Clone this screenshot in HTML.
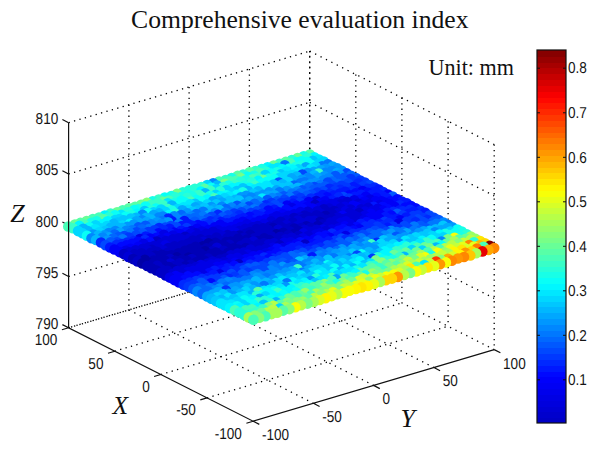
<!DOCTYPE html>
<html>
<head>
<meta charset="utf-8">
<title>Comprehensive evaluation index</title>
<style>
html,body{margin:0;padding:0;background:#fff;}
body{width:600px;height:454px;overflow:hidden;font-family:"Liberation Sans",sans-serif;}
svg{display:block;}
</style>
</head>
<body>
<svg width="600" height="454" viewBox="0 0 600 454">
<rect width="600" height="454" fill="#fff"/>
<path d="M128.9 104.8L128.9 309.9M189.1 86.9L189.1 292M249.4 69L249.4 274.1M309.7 51.1L309.7 256.2M355.8 74.5L355.8 279.6M401.9 97.8L401.9 302.9M448.1 121.2L448.1 326.2M494.2 144.5L494.2 349.6" fill="none" stroke="#000" stroke-width="1.3" stroke-dasharray="1.3 4.10"/>
<path d="M68.6 327.8L309.7 256.2M68.6 276.5L309.7 204.9M68.6 225.2L309.7 153.7M68.6 174L309.7 102.4M68.6 122.7L309.7 51.1M114.7 351.2L355.8 279.6M160.8 374.5L401.9 302.9M207 397.9L448.1 326.2" fill="none" stroke="#000" stroke-width="1.3" stroke-dasharray="1.3 4.33"/>
<path d="M309.7 256.2L494.2 349.6M309.7 204.9L494.2 298.3M309.7 153.7L494.2 247.1M309.7 102.4L494.2 195.8M309.7 51.1L494.2 144.5M128.9 309.9L313.4 403.3M189.1 292L373.6 385.4M249.4 274.1L433.9 367.5" fill="none" stroke="#000" stroke-width="1.3" stroke-dasharray="1.3 4.75"/>
<path d="M68.6 327.8L309.7 256.2" fill="none" stroke="#000" stroke-width="1.3" stroke-dasharray="1.3 4.33" stroke-dashoffset="3.10"/>
<path d="M309.7 51.1L309.7 256.2" fill="none" stroke="#000" stroke-width="1.3" stroke-dasharray="1.3 4.10" stroke-dashoffset="0.7"/>
<path d="M68.6 225.2l-6.2 -3.2" fill="none" stroke="#111" stroke-width="1.2"/>
<g id="pts">
<circle cx="309.9" cy="154.5" r="5.3" fill="#58ffa7"/>
<circle cx="303.7" cy="156.2" r="5.3" fill="#18ffe7"/>
<circle cx="297.6" cy="158.1" r="5.3" fill="#68ff97"/>
<circle cx="291.8" cy="160.1" r="5.3" fill="#28ffd7"/>
<circle cx="285.8" cy="161.9" r="5.3" fill="#58ffa7"/>
<circle cx="279.5" cy="163.7" r="5.3" fill="#38ffc7"/>
<circle cx="273.6" cy="165.5" r="5.3" fill="#68ff97"/>
<circle cx="267.6" cy="167.2" r="5.3" fill="#00f7ff"/>
<circle cx="261.8" cy="169" r="5.3" fill="#18ffe7"/>
<circle cx="255.5" cy="171" r="5.3" fill="#38ffc7"/>
<circle cx="249.5" cy="172.3" r="5.3" fill="#58ffa7"/>
<circle cx="243.1" cy="174.5" r="5.3" fill="#28ffd7"/>
<circle cx="237.6" cy="175.9" r="5.3" fill="#58ffa7"/>
<circle cx="231.6" cy="178.1" r="5.3" fill="#18ffe7"/>
<circle cx="225.6" cy="180" r="5.3" fill="#38ffc7"/>
<circle cx="219.1" cy="181.5" r="5.3" fill="#48ffb7"/>
<circle cx="213.2" cy="183.2" r="5.3" fill="#0087ff"/>
<circle cx="207.2" cy="185.1" r="5.3" fill="#00d7ff"/>
<circle cx="201.4" cy="187.1" r="5.3" fill="#28ffd7"/>
<circle cx="194.9" cy="188.7" r="5.3" fill="#28ffd7"/>
<circle cx="188.9" cy="190.4" r="5.3" fill="#28ffd7"/>
<circle cx="182.9" cy="192.2" r="5.3" fill="#28ffd7"/>
<circle cx="176.9" cy="193.9" r="5.3" fill="#78ff87"/>
<circle cx="171.3" cy="196.1" r="5.3" fill="#18ffe7"/>
<circle cx="164.8" cy="197.5" r="5.3" fill="#08fff7"/>
<circle cx="158.7" cy="199.6" r="5.3" fill="#38ffc7"/>
<circle cx="152.7" cy="201.2" r="5.3" fill="#18ffe7"/>
<circle cx="146.8" cy="202.9" r="5.3" fill="#87ff78"/>
<circle cx="141.1" cy="204.7" r="5.3" fill="#68ff97"/>
<circle cx="135.1" cy="206.7" r="5.3" fill="#58ffa7"/>
<circle cx="128.9" cy="208.3" r="5.3" fill="#58ffa7"/>
<circle cx="122.7" cy="210.2" r="5.3" fill="#48ffb7"/>
<circle cx="117.1" cy="212.2" r="5.3" fill="#68ff97"/>
<circle cx="110.6" cy="213.6" r="5.3" fill="#38ffc7"/>
<circle cx="104.8" cy="215.6" r="5.3" fill="#00f7ff"/>
<circle cx="99" cy="217.5" r="5.3" fill="#48ffb7"/>
<circle cx="92.9" cy="219" r="5.3" fill="#48ffb7"/>
<circle cx="86.6" cy="221.1" r="5.3" fill="#68ff97"/>
<circle cx="80.4" cy="222.9" r="5.3" fill="#58ffa7"/>
<circle cx="74.9" cy="224.5" r="5.3" fill="#68ff97"/>
<circle cx="68.3" cy="226.5" r="5.3" fill="#48ffb7"/>
<circle cx="314.3" cy="157.2" r="5.3" fill="#00f7ff"/>
<circle cx="307.8" cy="158.3" r="5.3" fill="#28ffd7"/>
<circle cx="301.4" cy="161.3" r="5.3" fill="#08fff7"/>
<circle cx="297.1" cy="162.2" r="5.3" fill="#08fff7"/>
<circle cx="290.3" cy="163.3" r="5.3" fill="#48ffb7"/>
<circle cx="284.8" cy="165.3" r="5.3" fill="#0078ff"/>
<circle cx="277.8" cy="167.8" r="5.3" fill="#00e7ff"/>
<circle cx="272.3" cy="169.1" r="5.3" fill="#00e7ff"/>
<circle cx="266.2" cy="171.8" r="5.3" fill="#28ffd7"/>
<circle cx="260.1" cy="173.1" r="5.3" fill="#48ffb7"/>
<circle cx="254" cy="175.7" r="5.3" fill="#18ffe7"/>
<circle cx="247.5" cy="176.8" r="5.3" fill="#08fff7"/>
<circle cx="241.2" cy="178.4" r="5.3" fill="#78ff87"/>
<circle cx="236.3" cy="180.8" r="5.3" fill="#48ffb7"/>
<circle cx="230.3" cy="181.4" r="5.3" fill="#48ffb7"/>
<circle cx="224.9" cy="183.7" r="5.3" fill="#78ff87"/>
<circle cx="217.1" cy="185.5" r="5.3" fill="#00b7ff"/>
<circle cx="211.4" cy="187.8" r="5.3" fill="#08fff7"/>
<circle cx="204.8" cy="188.9" r="5.3" fill="#58ffa7"/>
<circle cx="200.9" cy="191.5" r="5.3" fill="#00f7ff"/>
<circle cx="192.7" cy="193.3" r="5.3" fill="#28ffd7"/>
<circle cx="188.6" cy="195.1" r="5.3" fill="#18ffe7"/>
<circle cx="181.9" cy="196.7" r="5.3" fill="#18ffe7"/>
<circle cx="175.5" cy="197.4" r="5.3" fill="#28ffd7"/>
<circle cx="168.7" cy="200.6" r="5.3" fill="#48ffb7"/>
<circle cx="163.3" cy="201.8" r="5.3" fill="#68ff97"/>
<circle cx="157.7" cy="203.1" r="5.3" fill="#38ffc7"/>
<circle cx="150.9" cy="205" r="5.3" fill="#38ffc7"/>
<circle cx="145.5" cy="206.5" r="5.3" fill="#08fff7"/>
<circle cx="138.4" cy="209.3" r="5.3" fill="#18ffe7"/>
<circle cx="134.4" cy="210" r="5.3" fill="#08fff7"/>
<circle cx="128.2" cy="212.3" r="5.3" fill="#28ffd7"/>
<circle cx="121.1" cy="214.9" r="5.3" fill="#00e7ff"/>
<circle cx="115.1" cy="215.3" r="5.3" fill="#08fff7"/>
<circle cx="108.8" cy="217.2" r="5.3" fill="#28ffd7"/>
<circle cx="103.7" cy="219.2" r="5.3" fill="#58ffa7"/>
<circle cx="96.6" cy="221.3" r="5.3" fill="#18ffe7"/>
<circle cx="91.4" cy="222.8" r="5.3" fill="#18ffe7"/>
<circle cx="84.2" cy="224.8" r="5.3" fill="#48ffb7"/>
<circle cx="79.3" cy="225.9" r="5.3" fill="#00f7ff"/>
<circle cx="72.9" cy="228.3" r="5.3" fill="#38ffc7"/>
<circle cx="318.9" cy="159.5" r="5.3" fill="#00e7ff"/>
<circle cx="312.7" cy="160.8" r="5.3" fill="#00c7ff"/>
<circle cx="307.2" cy="162.1" r="5.3" fill="#08fff7"/>
<circle cx="301.4" cy="165.3" r="5.3" fill="#18ffe7"/>
<circle cx="295.6" cy="167" r="5.3" fill="#18ffe7"/>
<circle cx="289.2" cy="168.6" r="5.3" fill="#08fff7"/>
<circle cx="282.5" cy="169.3" r="5.3" fill="#00f7ff"/>
<circle cx="277" cy="172.2" r="5.3" fill="#18ffe7"/>
<circle cx="271.3" cy="173.6" r="5.3" fill="#08fff7"/>
<circle cx="265.2" cy="175" r="5.3" fill="#00d7ff"/>
<circle cx="258" cy="177.7" r="5.3" fill="#38ffc7"/>
<circle cx="252.6" cy="179.3" r="5.3" fill="#48ffb7"/>
<circle cx="245.7" cy="180.2" r="5.3" fill="#18ffe7"/>
<circle cx="240.7" cy="181.7" r="5.3" fill="#28ffd7"/>
<circle cx="235" cy="184.7" r="5.3" fill="#38ffc7"/>
<circle cx="228.4" cy="185.5" r="5.3" fill="#18ffe7"/>
<circle cx="223.4" cy="187.1" r="5.3" fill="#28ffd7"/>
<circle cx="216.3" cy="189.3" r="5.3" fill="#00d7ff"/>
<circle cx="210.6" cy="190.9" r="5.3" fill="#38ffc7"/>
<circle cx="205.1" cy="193.3" r="5.3" fill="#00b7ff"/>
<circle cx="199.2" cy="195.1" r="5.3" fill="#38ffc7"/>
<circle cx="192.2" cy="196.6" r="5.3" fill="#18ffe7"/>
<circle cx="187.1" cy="197.8" r="5.3" fill="#28ffd7"/>
<circle cx="181.2" cy="200.9" r="5.3" fill="#08fff7"/>
<circle cx="174" cy="203.2" r="5.3" fill="#18ffe7"/>
<circle cx="167.7" cy="203.3" r="5.3" fill="#00e7ff"/>
<circle cx="163.2" cy="205.4" r="5.3" fill="#38ffc7"/>
<circle cx="155.9" cy="208.5" r="5.3" fill="#08fff7"/>
<circle cx="151.1" cy="210.2" r="5.3" fill="#28ffd7"/>
<circle cx="144.6" cy="211.1" r="5.3" fill="#00c7ff"/>
<circle cx="137.1" cy="213.8" r="5.3" fill="#00f7ff"/>
<circle cx="131.6" cy="215.2" r="5.3" fill="#18ffe7"/>
<circle cx="125.6" cy="216.7" r="5.3" fill="#08fff7"/>
<circle cx="119.4" cy="219.1" r="5.3" fill="#00d7ff"/>
<circle cx="115.1" cy="220.1" r="5.3" fill="#00d7ff"/>
<circle cx="107.6" cy="221.2" r="5.3" fill="#00f7ff"/>
<circle cx="102.8" cy="224.2" r="5.3" fill="#00f7ff"/>
<circle cx="95.6" cy="225.3" r="5.3" fill="#00d7ff"/>
<circle cx="89.1" cy="227.3" r="5.3" fill="#08fff7"/>
<circle cx="83.3" cy="228.7" r="5.3" fill="#00b7ff"/>
<circle cx="78.1" cy="231.1" r="5.3" fill="#00d7ff"/>
<circle cx="323.8" cy="161.6" r="5.3" fill="#00d7ff"/>
<circle cx="318.4" cy="164" r="5.3" fill="#00d7ff"/>
<circle cx="310.6" cy="164.6" r="5.3" fill="#08fff7"/>
<circle cx="305.9" cy="167.3" r="5.3" fill="#00a7ff"/>
<circle cx="298.4" cy="169.3" r="5.3" fill="#00d7ff"/>
<circle cx="293" cy="169.9" r="5.3" fill="#00f7ff"/>
<circle cx="286.5" cy="171.6" r="5.3" fill="#00e7ff"/>
<circle cx="280.7" cy="174.4" r="5.3" fill="#00c7ff"/>
<circle cx="276.3" cy="176.2" r="5.3" fill="#18ffe7"/>
<circle cx="268.7" cy="178.6" r="5.3" fill="#18ffe7"/>
<circle cx="263.3" cy="179.9" r="5.3" fill="#68ff97"/>
<circle cx="258.2" cy="180.9" r="5.3" fill="#00f7ff"/>
<circle cx="251.6" cy="182.6" r="5.3" fill="#28ffd7"/>
<circle cx="244.5" cy="185.8" r="5.3" fill="#18ffe7"/>
<circle cx="238.5" cy="187.2" r="5.3" fill="#00f7ff"/>
<circle cx="232.4" cy="188" r="5.3" fill="#00f7ff"/>
<circle cx="226.3" cy="190.1" r="5.3" fill="#00d7ff"/>
<circle cx="220.1" cy="191.3" r="5.3" fill="#28ffd7"/>
<circle cx="215.6" cy="194.8" r="5.3" fill="#00d7ff"/>
<circle cx="210" cy="196.1" r="5.3" fill="#18ffe7"/>
<circle cx="202.7" cy="197.2" r="5.3" fill="#38ffc7"/>
<circle cx="196.6" cy="200.1" r="5.3" fill="#08fff7"/>
<circle cx="190.6" cy="201.6" r="5.3" fill="#48ffb7"/>
<circle cx="184.8" cy="202.6" r="5.3" fill="#08fff7"/>
<circle cx="179.8" cy="203.8" r="5.3" fill="#08fff7"/>
<circle cx="171.8" cy="205.6" r="5.3" fill="#00b7ff"/>
<circle cx="167.4" cy="208.9" r="5.3" fill="#38ffc7"/>
<circle cx="161.1" cy="209.6" r="5.3" fill="#00d7ff"/>
<circle cx="153.7" cy="212.2" r="5.3" fill="#00d7ff"/>
<circle cx="147.7" cy="213.1" r="5.3" fill="#08fff7"/>
<circle cx="142.5" cy="214.9" r="5.3" fill="#0087ff"/>
<circle cx="136" cy="217.7" r="5.3" fill="#00b7ff"/>
<circle cx="130.9" cy="218.6" r="5.3" fill="#00c7ff"/>
<circle cx="123.7" cy="220.2" r="5.3" fill="#00c7ff"/>
<circle cx="117.6" cy="222.6" r="5.3" fill="#00c7ff"/>
<circle cx="113.6" cy="223.9" r="5.3" fill="#00b7ff"/>
<circle cx="107" cy="226" r="5.3" fill="#00d7ff"/>
<circle cx="100.9" cy="228.3" r="5.3" fill="#00d7ff"/>
<circle cx="95.2" cy="229.3" r="5.3" fill="#00e7ff"/>
<circle cx="87.8" cy="231" r="5.3" fill="#00b7ff"/>
<circle cx="82.5" cy="233.2" r="5.3" fill="#00d7ff"/>
<circle cx="328" cy="164.2" r="5.3" fill="#0078ff"/>
<circle cx="322.1" cy="166.4" r="5.3" fill="#0078ff"/>
<circle cx="315.6" cy="166.9" r="5.3" fill="#00d7ff"/>
<circle cx="311" cy="169.1" r="5.3" fill="#00e7ff"/>
<circle cx="304.7" cy="172" r="5.3" fill="#00d7ff"/>
<circle cx="297.4" cy="172.7" r="5.3" fill="#00e7ff"/>
<circle cx="292.2" cy="175" r="5.3" fill="#00d7ff"/>
<circle cx="286.3" cy="176" r="5.3" fill="#00d7ff"/>
<circle cx="280" cy="177.5" r="5.3" fill="#00d7ff"/>
<circle cx="274.2" cy="179.4" r="5.3" fill="#08fff7"/>
<circle cx="267.4" cy="181.5" r="5.3" fill="#08fff7"/>
<circle cx="261.5" cy="183.5" r="5.3" fill="#08fff7"/>
<circle cx="255.2" cy="185.9" r="5.3" fill="#38ffc7"/>
<circle cx="249.6" cy="187.8" r="5.3" fill="#00f7ff"/>
<circle cx="243" cy="188.2" r="5.3" fill="#00c7ff"/>
<circle cx="236.8" cy="191.1" r="5.3" fill="#00c7ff"/>
<circle cx="231.2" cy="192.7" r="5.3" fill="#00d7ff"/>
<circle cx="226.4" cy="195.3" r="5.3" fill="#08fff7"/>
<circle cx="220.7" cy="196.2" r="5.3" fill="#00f7ff"/>
<circle cx="214.5" cy="198.2" r="5.3" fill="#48ffb7"/>
<circle cx="207" cy="199.6" r="5.3" fill="#00f7ff"/>
<circle cx="201" cy="201.4" r="5.3" fill="#08fff7"/>
<circle cx="195" cy="203.8" r="5.3" fill="#00c7ff"/>
<circle cx="190.1" cy="204.3" r="5.3" fill="#00e7ff"/>
<circle cx="183.6" cy="207.2" r="5.3" fill="#00e7ff"/>
<circle cx="177.3" cy="209" r="5.3" fill="#00d7ff"/>
<circle cx="171.7" cy="210.5" r="5.3" fill="#18ffe7"/>
<circle cx="165.3" cy="211.7" r="5.3" fill="#00d7ff"/>
<circle cx="159.2" cy="213.4" r="5.3" fill="#00b7ff"/>
<circle cx="153.7" cy="215.1" r="5.3" fill="#00a7ff"/>
<circle cx="146.3" cy="217.7" r="5.3" fill="#00b7ff"/>
<circle cx="142.1" cy="220.4" r="5.3" fill="#0087ff"/>
<circle cx="136.3" cy="221.3" r="5.3" fill="#00a7ff"/>
<circle cx="129.9" cy="223.8" r="5.3" fill="#00f7ff"/>
<circle cx="122.5" cy="225.6" r="5.3" fill="#00d7ff"/>
<circle cx="117.2" cy="227.4" r="5.3" fill="#00b7ff"/>
<circle cx="110.8" cy="227.6" r="5.3" fill="#00b7ff"/>
<circle cx="105.5" cy="230.9" r="5.3" fill="#00c7ff"/>
<circle cx="99.2" cy="232.3" r="5.3" fill="#00d7ff"/>
<circle cx="93.3" cy="234.5" r="5.3" fill="#0097ff"/>
<circle cx="87" cy="235.8" r="5.3" fill="#08fff7"/>
<circle cx="332.7" cy="166.5" r="5.3" fill="#00a7ff"/>
<circle cx="325.7" cy="168.7" r="5.3" fill="#0097ff"/>
<circle cx="320.9" cy="170.2" r="5.3" fill="#00a7ff"/>
<circle cx="313.9" cy="171.9" r="5.3" fill="#00a7ff"/>
<circle cx="307.8" cy="173" r="5.3" fill="#0097ff"/>
<circle cx="302.3" cy="174.6" r="5.3" fill="#0048ff"/>
<circle cx="296.8" cy="176.5" r="5.3" fill="#00b7ff"/>
<circle cx="291.5" cy="178.4" r="5.3" fill="#00a7ff"/>
<circle cx="285.4" cy="181.2" r="5.3" fill="#00d7ff"/>
<circle cx="278.8" cy="182.5" r="5.3" fill="#0058ff"/>
<circle cx="273.4" cy="184.6" r="5.3" fill="#00c7ff"/>
<circle cx="266.5" cy="185.8" r="5.3" fill="#00e7ff"/>
<circle cx="259.4" cy="187.9" r="5.3" fill="#00e7ff"/>
<circle cx="254.6" cy="189.6" r="5.3" fill="#00e7ff"/>
<circle cx="248" cy="191" r="5.3" fill="#00b7ff"/>
<circle cx="242.8" cy="192.3" r="5.3" fill="#18ffe7"/>
<circle cx="236.9" cy="194.9" r="5.3" fill="#00f7ff"/>
<circle cx="229.3" cy="196.5" r="5.3" fill="#00e7ff"/>
<circle cx="224.7" cy="198.1" r="5.3" fill="#00d7ff"/>
<circle cx="218.3" cy="199.9" r="5.3" fill="#00b7ff"/>
<circle cx="213" cy="201.3" r="5.3" fill="#00a7ff"/>
<circle cx="207.2" cy="204.4" r="5.3" fill="#00d7ff"/>
<circle cx="199.6" cy="206.4" r="5.3" fill="#00b7ff"/>
<circle cx="195.2" cy="207.4" r="5.3" fill="#00a7ff"/>
<circle cx="188" cy="209.7" r="5.3" fill="#00d7ff"/>
<circle cx="182.3" cy="210.3" r="5.3" fill="#00a7ff"/>
<circle cx="175.2" cy="213.6" r="5.3" fill="#28ffd7"/>
<circle cx="169" cy="215" r="5.3" fill="#00f7ff"/>
<circle cx="163" cy="216.6" r="5.3" fill="#0087ff"/>
<circle cx="158.8" cy="217.5" r="5.3" fill="#0087ff"/>
<circle cx="151.1" cy="219.5" r="5.3" fill="#00b7ff"/>
<circle cx="146.6" cy="222.1" r="5.3" fill="#00a7ff"/>
<circle cx="139" cy="222.9" r="5.3" fill="#00a7ff"/>
<circle cx="133.7" cy="224.5" r="5.3" fill="#0097ff"/>
<circle cx="127.5" cy="226.9" r="5.3" fill="#0097ff"/>
<circle cx="122.1" cy="228.1" r="5.3" fill="#00b7ff"/>
<circle cx="115.4" cy="231.1" r="5.3" fill="#0087ff"/>
<circle cx="108.8" cy="233.1" r="5.3" fill="#0087ff"/>
<circle cx="104.3" cy="235.2" r="5.3" fill="#0097ff"/>
<circle cx="98.3" cy="235.6" r="5.3" fill="#00b7ff"/>
<circle cx="91.5" cy="238.2" r="5.3" fill="#0087ff"/>
<circle cx="337.4" cy="168.4" r="5.3" fill="#0097ff"/>
<circle cx="331.8" cy="171" r="5.3" fill="#0087ff"/>
<circle cx="325.1" cy="172.9" r="5.3" fill="#0087ff"/>
<circle cx="318.6" cy="173.6" r="5.3" fill="#38ffc7"/>
<circle cx="314.1" cy="175.3" r="5.3" fill="#00b7ff"/>
<circle cx="307.8" cy="177.9" r="5.3" fill="#0087ff"/>
<circle cx="302" cy="179.7" r="5.3" fill="#0097ff"/>
<circle cx="295.8" cy="181.3" r="5.3" fill="#00a7ff"/>
<circle cx="288.6" cy="182.4" r="5.3" fill="#00d7ff"/>
<circle cx="282.4" cy="184.2" r="5.3" fill="#00b7ff"/>
<circle cx="276.4" cy="186.3" r="5.3" fill="#00c7ff"/>
<circle cx="270.2" cy="189.2" r="5.3" fill="#00e7ff"/>
<circle cx="265.7" cy="190.6" r="5.3" fill="#00e7ff"/>
<circle cx="258.2" cy="191.4" r="5.3" fill="#00b7ff"/>
<circle cx="253.6" cy="194.1" r="5.3" fill="#00c7ff"/>
<circle cx="246.2" cy="195.7" r="5.3" fill="#0097ff"/>
<circle cx="240.8" cy="197.4" r="5.3" fill="#0097ff"/>
<circle cx="235.4" cy="199.8" r="5.3" fill="#00b7ff"/>
<circle cx="229.3" cy="201.1" r="5.3" fill="#00c7ff"/>
<circle cx="222" cy="202.5" r="5.3" fill="#00a7ff"/>
<circle cx="216.3" cy="204.3" r="5.3" fill="#00c7ff"/>
<circle cx="211.2" cy="207" r="5.3" fill="#0097ff"/>
<circle cx="204.5" cy="208" r="5.3" fill="#00c7ff"/>
<circle cx="198" cy="210.3" r="5.3" fill="#00b7ff"/>
<circle cx="192.9" cy="211.7" r="5.3" fill="#00c7ff"/>
<circle cx="187.4" cy="213.4" r="5.3" fill="#0097ff"/>
<circle cx="181.1" cy="215" r="5.3" fill="#0068ff"/>
<circle cx="174.3" cy="216.2" r="5.3" fill="#0087ff"/>
<circle cx="168.4" cy="218.6" r="5.3" fill="#0028ff"/>
<circle cx="162" cy="221" r="5.3" fill="#0078ff"/>
<circle cx="157.2" cy="222.2" r="5.3" fill="#0097ff"/>
<circle cx="151.2" cy="224.4" r="5.3" fill="#0087ff"/>
<circle cx="145.5" cy="225.7" r="5.3" fill="#0058ff"/>
<circle cx="138.4" cy="227.4" r="5.3" fill="#0058ff"/>
<circle cx="132.1" cy="230.2" r="5.3" fill="#0078ff"/>
<circle cx="126.2" cy="230.7" r="5.3" fill="#0087ff"/>
<circle cx="119.8" cy="232.7" r="5.3" fill="#00a7ff"/>
<circle cx="114.7" cy="234.6" r="5.3" fill="#0068ff"/>
<circle cx="109.1" cy="237.4" r="5.3" fill="#00a7ff"/>
<circle cx="102.6" cy="237.6" r="5.3" fill="#0087ff"/>
<circle cx="96.1" cy="240" r="5.3" fill="#00b7ff"/>
<circle cx="341.9" cy="170.8" r="5.3" fill="#0097ff"/>
<circle cx="336.8" cy="173" r="5.3" fill="#00a7ff"/>
<circle cx="330.6" cy="175.2" r="5.3" fill="#0087ff"/>
<circle cx="324.4" cy="176.3" r="5.3" fill="#0097ff"/>
<circle cx="317.3" cy="177.5" r="5.3" fill="#00a7ff"/>
<circle cx="311.1" cy="179.9" r="5.3" fill="#0087ff"/>
<circle cx="304.7" cy="182.3" r="5.3" fill="#0078ff"/>
<circle cx="300.5" cy="183.3" r="5.3" fill="#0078ff"/>
<circle cx="294.1" cy="185.6" r="5.3" fill="#0068ff"/>
<circle cx="288.7" cy="186.8" r="5.3" fill="#00c7ff"/>
<circle cx="282.6" cy="188.1" r="5.3" fill="#00c7ff"/>
<circle cx="276.5" cy="190.4" r="5.3" fill="#00a7ff"/>
<circle cx="269" cy="192.4" r="5.3" fill="#0097ff"/>
<circle cx="263.2" cy="194.9" r="5.3" fill="#0097ff"/>
<circle cx="257.6" cy="196.9" r="5.3" fill="#0097ff"/>
<circle cx="251.2" cy="197.5" r="5.3" fill="#0087ff"/>
<circle cx="244.5" cy="200" r="5.3" fill="#0087ff"/>
<circle cx="239.1" cy="200.5" r="5.3" fill="#00c7ff"/>
<circle cx="233.8" cy="203.7" r="5.3" fill="#00c7ff"/>
<circle cx="227.7" cy="205.4" r="5.3" fill="#00c7ff"/>
<circle cx="221.8" cy="206.7" r="5.3" fill="#0087ff"/>
<circle cx="214.4" cy="209.1" r="5.3" fill="#00a7ff"/>
<circle cx="210.1" cy="210.9" r="5.3" fill="#00b7ff"/>
<circle cx="203.2" cy="211.8" r="5.3" fill="#0078ff"/>
<circle cx="196.3" cy="214.1" r="5.3" fill="#0068ff"/>
<circle cx="191.5" cy="216.5" r="5.3" fill="#0087ff"/>
<circle cx="185.5" cy="218.3" r="5.3" fill="#0078ff"/>
<circle cx="178.4" cy="219.6" r="5.3" fill="#0087ff"/>
<circle cx="172.1" cy="221.4" r="5.3" fill="#0018ff"/>
<circle cx="168" cy="222.2" r="5.3" fill="#0097ff"/>
<circle cx="161.7" cy="224.1" r="5.3" fill="#0087ff"/>
<circle cx="155.9" cy="226.9" r="5.3" fill="#0087ff"/>
<circle cx="149" cy="229.1" r="5.3" fill="#0078ff"/>
<circle cx="142" cy="229.2" r="5.3" fill="#0068ff"/>
<circle cx="136.6" cy="232.3" r="5.3" fill="#0048ff"/>
<circle cx="130.1" cy="233.4" r="5.3" fill="#0078ff"/>
<circle cx="124.2" cy="236" r="5.3" fill="#0048ff"/>
<circle cx="118.8" cy="237" r="5.3" fill="#0058ff"/>
<circle cx="113.1" cy="238.6" r="5.3" fill="#0068ff"/>
<circle cx="107.6" cy="240.5" r="5.3" fill="#0097ff"/>
<circle cx="101" cy="242.5" r="5.3" fill="#0028ff"/>
<circle cx="346.7" cy="173.4" r="5.3" fill="#0048ff"/>
<circle cx="339.5" cy="174.7" r="5.3" fill="#0097ff"/>
<circle cx="335.4" cy="176.1" r="5.3" fill="#0058ff"/>
<circle cx="328.7" cy="178.3" r="5.3" fill="#0087ff"/>
<circle cx="323.4" cy="180.2" r="5.3" fill="#0087ff"/>
<circle cx="315.8" cy="182.7" r="5.3" fill="#0097ff"/>
<circle cx="310.8" cy="184" r="5.3" fill="#0097ff"/>
<circle cx="305" cy="185.8" r="5.3" fill="#0097ff"/>
<circle cx="297.8" cy="187.8" r="5.3" fill="#00b7ff"/>
<circle cx="292.3" cy="189.6" r="5.3" fill="#00b7ff"/>
<circle cx="286.8" cy="191" r="5.3" fill="#0097ff"/>
<circle cx="279.5" cy="192.2" r="5.3" fill="#0078ff"/>
<circle cx="274.6" cy="195.3" r="5.3" fill="#00a7ff"/>
<circle cx="268.3" cy="195.7" r="5.3" fill="#00a7ff"/>
<circle cx="262.2" cy="198.5" r="5.3" fill="#00e7ff"/>
<circle cx="257.2" cy="200.7" r="5.3" fill="#0097ff"/>
<circle cx="249.1" cy="201.4" r="5.3" fill="#00a7ff"/>
<circle cx="244.3" cy="204.4" r="5.3" fill="#0097ff"/>
<circle cx="237.1" cy="205.7" r="5.3" fill="#0058ff"/>
<circle cx="231.5" cy="207.5" r="5.3" fill="#0087ff"/>
<circle cx="225.8" cy="209" r="5.3" fill="#0068ff"/>
<circle cx="219.4" cy="210.1" r="5.3" fill="#00b7ff"/>
<circle cx="214.9" cy="213.3" r="5.3" fill="#0087ff"/>
<circle cx="208.3" cy="215.4" r="5.3" fill="#00a7ff"/>
<circle cx="202.9" cy="216.6" r="5.3" fill="#0078ff"/>
<circle cx="195" cy="217.8" r="5.3" fill="#0068ff"/>
<circle cx="189.2" cy="219.4" r="5.3" fill="#0068ff"/>
<circle cx="184.3" cy="221.1" r="5.3" fill="#0018ff"/>
<circle cx="178.8" cy="224.1" r="5.3" fill="#0078ff"/>
<circle cx="170.9" cy="226" r="5.3" fill="#0048ff"/>
<circle cx="165.4" cy="227.6" r="5.3" fill="#0048ff"/>
<circle cx="159.1" cy="228" r="5.3" fill="#0028ff"/>
<circle cx="154.5" cy="230.2" r="5.3" fill="#0038ff"/>
<circle cx="148.4" cy="232.1" r="5.3" fill="#0038ff"/>
<circle cx="142.6" cy="233.5" r="5.3" fill="#0058ff"/>
<circle cx="136" cy="235.5" r="5.3" fill="#0048ff"/>
<circle cx="129" cy="237.5" r="5.3" fill="#0038ff"/>
<circle cx="122.7" cy="239.2" r="5.3" fill="#0078ff"/>
<circle cx="117.1" cy="242.2" r="5.3" fill="#0048ff"/>
<circle cx="110.7" cy="242.2" r="5.3" fill="#0058ff"/>
<circle cx="105.5" cy="245.2" r="5.3" fill="#0048ff"/>
<circle cx="351" cy="175.8" r="5.3" fill="#0068ff"/>
<circle cx="344.3" cy="177.7" r="5.3" fill="#0058ff"/>
<circle cx="339.4" cy="179.6" r="5.3" fill="#0058ff"/>
<circle cx="332.2" cy="181.5" r="5.3" fill="#0068ff"/>
<circle cx="327.8" cy="182.5" r="5.3" fill="#0048ff"/>
<circle cx="320" cy="185.4" r="5.3" fill="#0078ff"/>
<circle cx="314.4" cy="187" r="5.3" fill="#0048ff"/>
<circle cx="309.2" cy="187.3" r="5.3" fill="#0068ff"/>
<circle cx="302.2" cy="190.4" r="5.3" fill="#0058ff"/>
<circle cx="297.4" cy="191.6" r="5.3" fill="#0087ff"/>
<circle cx="291.9" cy="193.6" r="5.3" fill="#0078ff"/>
<circle cx="283.9" cy="196.2" r="5.3" fill="#0058ff"/>
<circle cx="278.3" cy="197.7" r="5.3" fill="#0078ff"/>
<circle cx="272.2" cy="198.1" r="5.3" fill="#0087ff"/>
<circle cx="267.3" cy="200" r="5.3" fill="#0058ff"/>
<circle cx="260" cy="202.5" r="5.3" fill="#0087ff"/>
<circle cx="254.6" cy="203.7" r="5.3" fill="#0068ff"/>
<circle cx="248.9" cy="206.5" r="5.3" fill="#0048ff"/>
<circle cx="242.5" cy="207.7" r="5.3" fill="#0087ff"/>
<circle cx="237.7" cy="210.2" r="5.3" fill="#0078ff"/>
<circle cx="230.5" cy="212.3" r="5.3" fill="#0068ff"/>
<circle cx="225.4" cy="212.5" r="5.3" fill="#0078ff"/>
<circle cx="218.1" cy="214.9" r="5.3" fill="#0028ff"/>
<circle cx="211.6" cy="216.7" r="5.3" fill="#0048ff"/>
<circle cx="207.6" cy="219.1" r="5.3" fill="#0058ff"/>
<circle cx="201.4" cy="221.1" r="5.3" fill="#0068ff"/>
<circle cx="194.9" cy="221.8" r="5.3" fill="#0058ff"/>
<circle cx="187.9" cy="224" r="5.3" fill="#0018ff"/>
<circle cx="182" cy="226.1" r="5.3" fill="#0018ff"/>
<circle cx="176.4" cy="227.2" r="5.3" fill="#0048ff"/>
<circle cx="169.6" cy="228.7" r="5.3" fill="#0018ff"/>
<circle cx="163.8" cy="230.4" r="5.3" fill="#0028ff"/>
<circle cx="158.5" cy="233.2" r="5.3" fill="#0008ff"/>
<circle cx="152.4" cy="234.9" r="5.3" fill="#0038ff"/>
<circle cx="145.7" cy="236.5" r="5.3" fill="#0018ff"/>
<circle cx="139.9" cy="239" r="5.3" fill="#0000e7"/>
<circle cx="133.7" cy="241" r="5.3" fill="#0028ff"/>
<circle cx="127.2" cy="242.6" r="5.3" fill="#0028ff"/>
<circle cx="122" cy="244.1" r="5.3" fill="#0028ff"/>
<circle cx="116.7" cy="244.9" r="5.3" fill="#0028ff"/>
<circle cx="110.2" cy="247.5" r="5.3" fill="#0018ff"/>
<circle cx="356" cy="178.1" r="5.3" fill="#0058ff"/>
<circle cx="350.7" cy="179.1" r="5.3" fill="#0038ff"/>
<circle cx="344" cy="181.6" r="5.3" fill="#0058ff"/>
<circle cx="338.4" cy="184" r="5.3" fill="#0068ff"/>
<circle cx="331.6" cy="185.6" r="5.3" fill="#0048ff"/>
<circle cx="325.4" cy="186.6" r="5.3" fill="#0058ff"/>
<circle cx="319.5" cy="188.2" r="5.3" fill="#0058ff"/>
<circle cx="313.8" cy="189.8" r="5.3" fill="#0058ff"/>
<circle cx="308.3" cy="193.1" r="5.3" fill="#0068ff"/>
<circle cx="300.5" cy="193.3" r="5.3" fill="#0068ff"/>
<circle cx="296.2" cy="196" r="5.3" fill="#0048ff"/>
<circle cx="289.9" cy="197.5" r="5.3" fill="#0078ff"/>
<circle cx="284.5" cy="199.8" r="5.3" fill="#0048ff"/>
<circle cx="277.2" cy="201.4" r="5.3" fill="#0058ff"/>
<circle cx="271.4" cy="203" r="5.3" fill="#0038ff"/>
<circle cx="265.5" cy="205.4" r="5.3" fill="#0028ff"/>
<circle cx="260.1" cy="206.7" r="5.3" fill="#0068ff"/>
<circle cx="254.1" cy="209.3" r="5.3" fill="#0078ff"/>
<circle cx="246.9" cy="210.2" r="5.3" fill="#0068ff"/>
<circle cx="241.6" cy="212.2" r="5.3" fill="#0048ff"/>
<circle cx="234.3" cy="213.6" r="5.3" fill="#0038ff"/>
<circle cx="228.2" cy="215.2" r="5.3" fill="#0048ff"/>
<circle cx="222.6" cy="217.4" r="5.3" fill="#0058ff"/>
<circle cx="217.3" cy="220.1" r="5.3" fill="#0038ff"/>
<circle cx="210.4" cy="221.4" r="5.3" fill="#0028ff"/>
<circle cx="205.2" cy="223.3" r="5.3" fill="#0038ff"/>
<circle cx="198" cy="225" r="5.3" fill="#0008ff"/>
<circle cx="192.4" cy="225.9" r="5.3" fill="#0018ff"/>
<circle cx="186.7" cy="228" r="5.3" fill="#0038ff"/>
<circle cx="181.2" cy="230.7" r="5.3" fill="#0018ff"/>
<circle cx="174" cy="232.5" r="5.3" fill="#0000f7"/>
<circle cx="169.7" cy="233.1" r="5.3" fill="#0018ff"/>
<circle cx="163.9" cy="234.8" r="5.3" fill="#0000e7"/>
<circle cx="156.5" cy="237.7" r="5.3" fill="#0008ff"/>
<circle cx="150.2" cy="238.6" r="5.3" fill="#0000f7"/>
<circle cx="145" cy="240" r="5.3" fill="#0028ff"/>
<circle cx="137.9" cy="241.8" r="5.3" fill="#0008ff"/>
<circle cx="132.1" cy="243.8" r="5.3" fill="#0008ff"/>
<circle cx="126.4" cy="245.4" r="5.3" fill="#0008ff"/>
<circle cx="121.5" cy="247.1" r="5.3" fill="#0008ff"/>
<circle cx="114.5" cy="249.5" r="5.3" fill="#0000f7"/>
<circle cx="360.2" cy="180.6" r="5.3" fill="#0038ff"/>
<circle cx="353.6" cy="182.5" r="5.3" fill="#0038ff"/>
<circle cx="348.1" cy="183.5" r="5.3" fill="#0048ff"/>
<circle cx="341.5" cy="185.7" r="5.3" fill="#0038ff"/>
<circle cx="336.1" cy="187.8" r="5.3" fill="#0038ff"/>
<circle cx="329.4" cy="188.7" r="5.3" fill="#0028ff"/>
<circle cx="323.4" cy="191.2" r="5.3" fill="#0048ff"/>
<circle cx="317.3" cy="192.5" r="5.3" fill="#0038ff"/>
<circle cx="311.7" cy="194.5" r="5.3" fill="#0048ff"/>
<circle cx="307" cy="195.8" r="5.3" fill="#0058ff"/>
<circle cx="300.5" cy="198" r="5.3" fill="#0038ff"/>
<circle cx="293.6" cy="200.6" r="5.3" fill="#0028ff"/>
<circle cx="287.3" cy="202.6" r="5.3" fill="#0038ff"/>
<circle cx="281.1" cy="203" r="5.3" fill="#0038ff"/>
<circle cx="275" cy="205.1" r="5.3" fill="#0048ff"/>
<circle cx="270.2" cy="207.6" r="5.3" fill="#0038ff"/>
<circle cx="263.7" cy="208.1" r="5.3" fill="#0038ff"/>
<circle cx="257" cy="211.4" r="5.3" fill="#0048ff"/>
<circle cx="251.1" cy="213.1" r="5.3" fill="#0038ff"/>
<circle cx="245" cy="214.7" r="5.3" fill="#0048ff"/>
<circle cx="239.4" cy="215.4" r="5.3" fill="#0028ff"/>
<circle cx="234.3" cy="218.4" r="5.3" fill="#0038ff"/>
<circle cx="226.9" cy="220.1" r="5.3" fill="#0038ff"/>
<circle cx="221" cy="222" r="5.3" fill="#0018ff"/>
<circle cx="215.3" cy="223.4" r="5.3" fill="#0038ff"/>
<circle cx="209.2" cy="224.3" r="5.3" fill="#0028ff"/>
<circle cx="203.3" cy="226.2" r="5.3" fill="#0008ff"/>
<circle cx="197.1" cy="228.7" r="5.3" fill="#0000f7"/>
<circle cx="191.2" cy="231.1" r="5.3" fill="#0000e7"/>
<circle cx="186.3" cy="232.3" r="5.3" fill="#0008ff"/>
<circle cx="179.8" cy="234" r="5.3" fill="#0000f7"/>
<circle cx="173.1" cy="235.6" r="5.3" fill="#0000e7"/>
<circle cx="166.9" cy="238" r="5.3" fill="#0000f7"/>
<circle cx="161.5" cy="239.2" r="5.3" fill="#0000e7"/>
<circle cx="156.6" cy="241.6" r="5.3" fill="#0000c7"/>
<circle cx="149.6" cy="242.3" r="5.3" fill="#0008ff"/>
<circle cx="143.5" cy="243.9" r="5.3" fill="#0000e7"/>
<circle cx="138.4" cy="246.8" r="5.3" fill="#0000f7"/>
<circle cx="130.4" cy="248.8" r="5.3" fill="#0000f7"/>
<circle cx="125.7" cy="250.8" r="5.3" fill="#0000e7"/>
<circle cx="119.6" cy="252.1" r="5.3" fill="#0000f7"/>
<circle cx="364.9" cy="182.6" r="5.3" fill="#0038ff"/>
<circle cx="358.4" cy="183.6" r="5.3" fill="#0028ff"/>
<circle cx="353.4" cy="187" r="5.3" fill="#0018ff"/>
<circle cx="346.2" cy="187.7" r="5.3" fill="#0038ff"/>
<circle cx="340.2" cy="189.7" r="5.3" fill="#0028ff"/>
<circle cx="334.8" cy="191.1" r="5.3" fill="#0038ff"/>
<circle cx="329.7" cy="193.9" r="5.3" fill="#0028ff"/>
<circle cx="322.9" cy="195.1" r="5.3" fill="#0018ff"/>
<circle cx="317.5" cy="197.7" r="5.3" fill="#0018ff"/>
<circle cx="310.9" cy="198.5" r="5.3" fill="#0028ff"/>
<circle cx="304.7" cy="201.4" r="5.3" fill="#0028ff"/>
<circle cx="299.8" cy="202.6" r="5.3" fill="#0038ff"/>
<circle cx="293" cy="203.8" r="5.3" fill="#0018ff"/>
<circle cx="287" cy="205.6" r="5.3" fill="#0000f7"/>
<circle cx="280" cy="208.1" r="5.3" fill="#0048ff"/>
<circle cx="274.4" cy="209.7" r="5.3" fill="#0018ff"/>
<circle cx="268.4" cy="210.6" r="5.3" fill="#0008ff"/>
<circle cx="261.7" cy="213.8" r="5.3" fill="#0028ff"/>
<circle cx="256" cy="214.9" r="5.3" fill="#0018ff"/>
<circle cx="249.7" cy="216.7" r="5.3" fill="#0008ff"/>
<circle cx="243.6" cy="218.4" r="5.3" fill="#0018ff"/>
<circle cx="239" cy="219.6" r="5.3" fill="#0018ff"/>
<circle cx="233.2" cy="221.9" r="5.3" fill="#0018ff"/>
<circle cx="227" cy="223.2" r="5.3" fill="#0018ff"/>
<circle cx="220.1" cy="224.8" r="5.3" fill="#0000f7"/>
<circle cx="214.8" cy="227.3" r="5.3" fill="#0000f7"/>
<circle cx="208.5" cy="230" r="5.3" fill="#0000f7"/>
<circle cx="202" cy="231.5" r="5.3" fill="#0000e7"/>
<circle cx="196" cy="233.2" r="5.3" fill="#0000d7"/>
<circle cx="190.5" cy="233.9" r="5.3" fill="#0000e7"/>
<circle cx="185.2" cy="236.7" r="5.3" fill="#0000c7"/>
<circle cx="178.9" cy="238.3" r="5.3" fill="#0000d7"/>
<circle cx="172.8" cy="239.4" r="5.3" fill="#0000d7"/>
<circle cx="165.9" cy="241.1" r="5.3" fill="#0000d7"/>
<circle cx="160.8" cy="244.3" r="5.3" fill="#0000d7"/>
<circle cx="154.1" cy="246" r="5.3" fill="#0000d7"/>
<circle cx="148.8" cy="247.4" r="5.3" fill="#0000d7"/>
<circle cx="142.8" cy="248.7" r="5.3" fill="#0000d7"/>
<circle cx="135.6" cy="250.2" r="5.3" fill="#0000d7"/>
<circle cx="129.3" cy="252.2" r="5.3" fill="#0000d7"/>
<circle cx="123.9" cy="254" r="5.3" fill="#0000c7"/>
<circle cx="369.6" cy="185.3" r="5.3" fill="#0048ff"/>
<circle cx="363.1" cy="186.4" r="5.3" fill="#0038ff"/>
<circle cx="357.7" cy="189.4" r="5.3" fill="#0018ff"/>
<circle cx="352.2" cy="191" r="5.3" fill="#0028ff"/>
<circle cx="345.3" cy="191.8" r="5.3" fill="#0018ff"/>
<circle cx="339.9" cy="193.6" r="5.3" fill="#0018ff"/>
<circle cx="333.8" cy="195.5" r="5.3" fill="#0018ff"/>
<circle cx="327.1" cy="197.2" r="5.3" fill="#0008ff"/>
<circle cx="320.9" cy="198.8" r="5.3" fill="#0018ff"/>
<circle cx="316.2" cy="201" r="5.3" fill="#0000d7"/>
<circle cx="308.7" cy="202.1" r="5.3" fill="#0000f7"/>
<circle cx="303.5" cy="205.5" r="5.3" fill="#0008ff"/>
<circle cx="296.4" cy="205.9" r="5.3" fill="#0008ff"/>
<circle cx="291.9" cy="208.1" r="5.3" fill="#0000e7"/>
<circle cx="286.2" cy="209.7" r="5.3" fill="#0008ff"/>
<circle cx="278.7" cy="212.2" r="5.3" fill="#0008ff"/>
<circle cx="273.4" cy="214.3" r="5.3" fill="#0008ff"/>
<circle cx="268.2" cy="215.6" r="5.3" fill="#0008ff"/>
<circle cx="260.8" cy="216.6" r="5.3" fill="#0018ff"/>
<circle cx="255.4" cy="219.8" r="5.3" fill="#0018ff"/>
<circle cx="249.4" cy="220.6" r="5.3" fill="#0008ff"/>
<circle cx="242.9" cy="221.8" r="5.3" fill="#0000f7"/>
<circle cx="237.3" cy="223.9" r="5.3" fill="#0000f7"/>
<circle cx="231.2" cy="227.1" r="5.3" fill="#0000f7"/>
<circle cx="224.6" cy="227.2" r="5.3" fill="#0000f7"/>
<circle cx="218.1" cy="230.3" r="5.3" fill="#0000e7"/>
<circle cx="213.1" cy="231.8" r="5.3" fill="#0000d7"/>
<circle cx="206.4" cy="233.7" r="5.3" fill="#0000d7"/>
<circle cx="201.5" cy="236" r="5.3" fill="#0000d7"/>
<circle cx="195.8" cy="236.3" r="5.3" fill="#0000d7"/>
<circle cx="189.4" cy="238.5" r="5.3" fill="#0000d7"/>
<circle cx="181.9" cy="239.6" r="5.3" fill="#0000d7"/>
<circle cx="176.9" cy="241.7" r="5.3" fill="#0000d7"/>
<circle cx="170" cy="244.5" r="5.3" fill="#0000d7"/>
<circle cx="165.3" cy="245.4" r="5.3" fill="#0000e7"/>
<circle cx="158.4" cy="248.2" r="5.3" fill="#0000d7"/>
<circle cx="151.8" cy="249.9" r="5.3" fill="#0000c7"/>
<circle cx="147.4" cy="250.4" r="5.3" fill="#0000d7"/>
<circle cx="141.6" cy="253.3" r="5.3" fill="#0000c7"/>
<circle cx="134.4" cy="254.3" r="5.3" fill="#0000c7"/>
<circle cx="128.4" cy="256.9" r="5.3" fill="#0000d7"/>
<circle cx="374.5" cy="187.5" r="5.3" fill="#0028ff"/>
<circle cx="367.8" cy="188.8" r="5.3" fill="#0028ff"/>
<circle cx="362.6" cy="191.1" r="5.3" fill="#0000f7"/>
<circle cx="355.6" cy="193.4" r="5.3" fill="#0008ff"/>
<circle cx="349.5" cy="195.2" r="5.3" fill="#0008ff"/>
<circle cx="343.3" cy="197.1" r="5.3" fill="#0048ff"/>
<circle cx="338.6" cy="197.4" r="5.3" fill="#0028ff"/>
<circle cx="331.7" cy="200.6" r="5.3" fill="#0018ff"/>
<circle cx="325" cy="201.2" r="5.3" fill="#0000f7"/>
<circle cx="320" cy="203" r="5.3" fill="#0000f7"/>
<circle cx="315.1" cy="204.9" r="5.3" fill="#0000c7"/>
<circle cx="307.2" cy="206.9" r="5.3" fill="#0000f7"/>
<circle cx="302.5" cy="208.8" r="5.3" fill="#0008ff"/>
<circle cx="296.8" cy="210.3" r="5.3" fill="#0008ff"/>
<circle cx="290.4" cy="212" r="5.3" fill="#0008ff"/>
<circle cx="282.9" cy="214.2" r="5.3" fill="#0000f7"/>
<circle cx="276.8" cy="216.3" r="5.3" fill="#0000e7"/>
<circle cx="272.2" cy="218.6" r="5.3" fill="#0000e7"/>
<circle cx="265.4" cy="219.4" r="5.3" fill="#0000f7"/>
<circle cx="259.6" cy="220.7" r="5.3" fill="#0000f7"/>
<circle cx="254.7" cy="222.7" r="5.3" fill="#0000f7"/>
<circle cx="247" cy="224.2" r="5.3" fill="#0000e7"/>
<circle cx="240.7" cy="227.1" r="5.3" fill="#0000e7"/>
<circle cx="235.2" cy="229.4" r="5.3" fill="#0000e7"/>
<circle cx="229.6" cy="230.5" r="5.3" fill="#0000e7"/>
<circle cx="224.1" cy="231.9" r="5.3" fill="#0000e7"/>
<circle cx="217.8" cy="234.2" r="5.3" fill="#0000d7"/>
<circle cx="210.9" cy="235.9" r="5.3" fill="#0000d7"/>
<circle cx="206" cy="237.5" r="5.3" fill="#0000d7"/>
<circle cx="200.4" cy="239.3" r="5.3" fill="#0000c7"/>
<circle cx="192.9" cy="240.5" r="5.3" fill="#0000c7"/>
<circle cx="188.1" cy="243.5" r="5.3" fill="#0000c7"/>
<circle cx="182.1" cy="245.2" r="5.3" fill="#0000c7"/>
<circle cx="174.5" cy="246.2" r="5.3" fill="#0000c7"/>
<circle cx="168.4" cy="248" r="5.3" fill="#0000c7"/>
<circle cx="163.3" cy="250.5" r="5.3" fill="#0000d7"/>
<circle cx="157" cy="251.8" r="5.3" fill="#0000c7"/>
<circle cx="151" cy="252.7" r="5.3" fill="#0000c7"/>
<circle cx="144.5" cy="255.8" r="5.3" fill="#0000c7"/>
<circle cx="139.9" cy="256.4" r="5.3" fill="#0000c7"/>
<circle cx="133.1" cy="259.1" r="5.3" fill="#0000b7"/>
<circle cx="378.8" cy="189.6" r="5.3" fill="#0018ff"/>
<circle cx="373.2" cy="192" r="5.3" fill="#0018ff"/>
<circle cx="367.8" cy="192.7" r="5.3" fill="#0008ff"/>
<circle cx="361.2" cy="194.7" r="5.3" fill="#0018ff"/>
<circle cx="354.8" cy="196.8" r="5.3" fill="#0018ff"/>
<circle cx="349" cy="198.6" r="5.3" fill="#0038ff"/>
<circle cx="342.7" cy="201.1" r="5.3" fill="#0000e7"/>
<circle cx="337.4" cy="202.5" r="5.3" fill="#0000e7"/>
<circle cx="331.1" cy="204.1" r="5.3" fill="#0000e7"/>
<circle cx="324" cy="205" r="5.3" fill="#0000e7"/>
<circle cx="319.2" cy="207.7" r="5.3" fill="#0000e7"/>
<circle cx="312.5" cy="208.6" r="5.3" fill="#0000f7"/>
<circle cx="307.7" cy="211.7" r="5.3" fill="#0000d7"/>
<circle cx="300.6" cy="212.1" r="5.3" fill="#0000e7"/>
<circle cx="294.1" cy="214.3" r="5.3" fill="#0000e7"/>
<circle cx="288.3" cy="215.7" r="5.3" fill="#0000e7"/>
<circle cx="283.2" cy="217.9" r="5.3" fill="#0000e7"/>
<circle cx="276.1" cy="220" r="5.3" fill="#0000e7"/>
<circle cx="271.1" cy="221.4" r="5.3" fill="#0000d7"/>
<circle cx="264" cy="223.7" r="5.3" fill="#0000e7"/>
<circle cx="257.8" cy="226" r="5.3" fill="#0000d7"/>
<circle cx="252.5" cy="227.2" r="5.3" fill="#0000d7"/>
<circle cx="245.3" cy="228.9" r="5.3" fill="#0000d7"/>
<circle cx="239.3" cy="231" r="5.3" fill="#0000d7"/>
<circle cx="234.9" cy="232.6" r="5.3" fill="#0000e7"/>
<circle cx="227.6" cy="235" r="5.3" fill="#0000c7"/>
<circle cx="221.3" cy="235.5" r="5.3" fill="#0000d7"/>
<circle cx="216.5" cy="237.6" r="5.3" fill="#0000c7"/>
<circle cx="209.1" cy="240.1" r="5.3" fill="#0000c7"/>
<circle cx="203.5" cy="241.7" r="5.3" fill="#0000d7"/>
<circle cx="199" cy="243.1" r="5.3" fill="#0000c7"/>
<circle cx="193.1" cy="245" r="5.3" fill="#0000c7"/>
<circle cx="185.4" cy="247" r="5.3" fill="#0000c7"/>
<circle cx="179.8" cy="249.1" r="5.3" fill="#0000c7"/>
<circle cx="174.9" cy="251.4" r="5.3" fill="#0000c7"/>
<circle cx="167.6" cy="252.8" r="5.3" fill="#0000c7"/>
<circle cx="161.9" cy="254.8" r="5.3" fill="#0000b7"/>
<circle cx="155.1" cy="255.5" r="5.3" fill="#0000b7"/>
<circle cx="150.8" cy="256.9" r="5.3" fill="#0000c7"/>
<circle cx="144.8" cy="259.8" r="5.3" fill="#0000a7"/>
<circle cx="137.6" cy="261.4" r="5.3" fill="#0000c7"/>
<circle cx="383.2" cy="192" r="5.3" fill="#0028ff"/>
<circle cx="377.7" cy="193.7" r="5.3" fill="#0018ff"/>
<circle cx="371.8" cy="194.9" r="5.3" fill="#0018ff"/>
<circle cx="365.8" cy="196.8" r="5.3" fill="#0000f7"/>
<circle cx="360.1" cy="199.8" r="5.3" fill="#0008ff"/>
<circle cx="354.2" cy="200.3" r="5.3" fill="#0000e7"/>
<circle cx="347.3" cy="202.1" r="5.3" fill="#0000d7"/>
<circle cx="340.6" cy="204.4" r="5.3" fill="#0000d7"/>
<circle cx="336.1" cy="206.3" r="5.3" fill="#0000e7"/>
<circle cx="329.2" cy="208.6" r="5.3" fill="#0000d7"/>
<circle cx="323.8" cy="209.3" r="5.3" fill="#0000c7"/>
<circle cx="317.2" cy="211.3" r="5.3" fill="#0000d7"/>
<circle cx="310.6" cy="213.7" r="5.3" fill="#0000d7"/>
<circle cx="304.6" cy="215.5" r="5.3" fill="#0000c7"/>
<circle cx="299.5" cy="217.6" r="5.3" fill="#0000d7"/>
<circle cx="294" cy="218" r="5.3" fill="#0000c7"/>
<circle cx="286.2" cy="220.2" r="5.3" fill="#0000d7"/>
<circle cx="280.7" cy="221.8" r="5.3" fill="#0000c7"/>
<circle cx="276.1" cy="225.1" r="5.3" fill="#0000c7"/>
<circle cx="269.6" cy="226.8" r="5.3" fill="#0000c7"/>
<circle cx="263.2" cy="228.4" r="5.3" fill="#0000c7"/>
<circle cx="256.6" cy="229" r="5.3" fill="#0000c7"/>
<circle cx="250.1" cy="232" r="5.3" fill="#0000c7"/>
<circle cx="245.6" cy="233.7" r="5.3" fill="#0000c7"/>
<circle cx="239.5" cy="235.6" r="5.3" fill="#0000b7"/>
<circle cx="233.8" cy="236.1" r="5.3" fill="#0000c7"/>
<circle cx="227.5" cy="238.1" r="5.3" fill="#0000c7"/>
<circle cx="220.7" cy="241.1" r="5.3" fill="#0000c7"/>
<circle cx="215.4" cy="242.7" r="5.3" fill="#0000b7"/>
<circle cx="208.5" cy="243.2" r="5.3" fill="#0000a7"/>
<circle cx="202.9" cy="246.3" r="5.3" fill="#0000a7"/>
<circle cx="195.6" cy="246.8" r="5.3" fill="#0000b7"/>
<circle cx="190.5" cy="249" r="5.3" fill="#0000b7"/>
<circle cx="184.9" cy="250.7" r="5.3" fill="#0000b7"/>
<circle cx="178.4" cy="253.2" r="5.3" fill="#0000b7"/>
<circle cx="171.5" cy="255.2" r="5.3" fill="#0000b7"/>
<circle cx="166.2" cy="256" r="5.3" fill="#0000b7"/>
<circle cx="160.3" cy="258.2" r="5.3" fill="#0000b7"/>
<circle cx="153.8" cy="260.6" r="5.3" fill="#0000b7"/>
<circle cx="147.7" cy="262.6" r="5.3" fill="#0000a7"/>
<circle cx="142.3" cy="263.4" r="5.3" fill="#0000a7"/>
<circle cx="388" cy="194.6" r="5.3" fill="#0000f7"/>
<circle cx="382.4" cy="196" r="5.3" fill="#0018ff"/>
<circle cx="376.3" cy="197.7" r="5.3" fill="#0008ff"/>
<circle cx="370" cy="199.5" r="5.3" fill="#0000e7"/>
<circle cx="364.4" cy="201.6" r="5.3" fill="#0000f7"/>
<circle cx="358.5" cy="203.7" r="5.3" fill="#0000d7"/>
<circle cx="352.9" cy="205.8" r="5.3" fill="#0000f7"/>
<circle cx="344.9" cy="206.7" r="5.3" fill="#0000e7"/>
<circle cx="340.5" cy="208.3" r="5.3" fill="#0000d7"/>
<circle cx="334.2" cy="211" r="5.3" fill="#0000c7"/>
<circle cx="328.3" cy="212.6" r="5.3" fill="#0000c7"/>
<circle cx="322.5" cy="214.6" r="5.3" fill="#0000d7"/>
<circle cx="316.6" cy="215.2" r="5.3" fill="#0000c7"/>
<circle cx="308.8" cy="217.3" r="5.3" fill="#0000c7"/>
<circle cx="303" cy="219.1" r="5.3" fill="#0000c7"/>
<circle cx="297.6" cy="220.5" r="5.3" fill="#0000d7"/>
<circle cx="292.7" cy="222.6" r="5.3" fill="#0000c7"/>
<circle cx="286.4" cy="225" r="5.3" fill="#0000d7"/>
<circle cx="280.2" cy="226.5" r="5.3" fill="#0000c7"/>
<circle cx="273.1" cy="228.1" r="5.3" fill="#0000b7"/>
<circle cx="267.8" cy="229.7" r="5.3" fill="#0000c7"/>
<circle cx="261.7" cy="231.7" r="5.3" fill="#0000c7"/>
<circle cx="254.6" cy="233.8" r="5.3" fill="#0000c7"/>
<circle cx="250.2" cy="234.8" r="5.3" fill="#0000b7"/>
<circle cx="243.7" cy="237.7" r="5.3" fill="#0000c7"/>
<circle cx="238" cy="238.8" r="5.3" fill="#0000b7"/>
<circle cx="230.7" cy="241.6" r="5.3" fill="#0000b7"/>
<circle cx="226.3" cy="242" r="5.3" fill="#0000b7"/>
<circle cx="219.3" cy="245.1" r="5.3" fill="#0000b7"/>
<circle cx="213.5" cy="245.8" r="5.3" fill="#0000b7"/>
<circle cx="206.5" cy="248.4" r="5.3" fill="#0000b7"/>
<circle cx="202.1" cy="250.3" r="5.3" fill="#0000b7"/>
<circle cx="194.4" cy="252" r="5.3" fill="#0000b7"/>
<circle cx="188.3" cy="253.6" r="5.3" fill="#0000b7"/>
<circle cx="182.6" cy="254.5" r="5.3" fill="#0000b7"/>
<circle cx="176.8" cy="257.4" r="5.3" fill="#0000a7"/>
<circle cx="170" cy="259" r="5.3" fill="#0000c7"/>
<circle cx="165" cy="260.7" r="5.3" fill="#0000b7"/>
<circle cx="158.2" cy="261.9" r="5.3" fill="#0000b7"/>
<circle cx="153.2" cy="263.6" r="5.3" fill="#0000b7"/>
<circle cx="147.2" cy="266" r="5.3" fill="#0000b7"/>
<circle cx="392.7" cy="196.6" r="5.3" fill="#0058ff"/>
<circle cx="386.9" cy="198.3" r="5.3" fill="#0018ff"/>
<circle cx="381.5" cy="201.2" r="5.3" fill="#0000f7"/>
<circle cx="375.7" cy="201.3" r="5.3" fill="#0000f7"/>
<circle cx="369" cy="204.2" r="5.3" fill="#0000e7"/>
<circle cx="362.4" cy="205.2" r="5.3" fill="#0000e7"/>
<circle cx="356.4" cy="206.9" r="5.3" fill="#0000f7"/>
<circle cx="350.7" cy="209.6" r="5.3" fill="#0000d7"/>
<circle cx="345.4" cy="211.4" r="5.3" fill="#0000e7"/>
<circle cx="337.4" cy="213.4" r="5.3" fill="#0000d7"/>
<circle cx="332.1" cy="214" r="5.3" fill="#0000c7"/>
<circle cx="325.4" cy="215.8" r="5.3" fill="#0000b7"/>
<circle cx="320.3" cy="217.4" r="5.3" fill="#0000c7"/>
<circle cx="314.3" cy="220.8" r="5.3" fill="#0000d7"/>
<circle cx="309" cy="221.1" r="5.3" fill="#0000d7"/>
<circle cx="301.7" cy="223.1" r="5.3" fill="#0000d7"/>
<circle cx="297.3" cy="226.2" r="5.3" fill="#0000d7"/>
<circle cx="290.9" cy="227.7" r="5.3" fill="#0000c7"/>
<circle cx="284.4" cy="228.7" r="5.3" fill="#0000c7"/>
<circle cx="278.1" cy="229.9" r="5.3" fill="#0000d7"/>
<circle cx="271.8" cy="232.7" r="5.3" fill="#0000c7"/>
<circle cx="265.5" cy="233.8" r="5.3" fill="#0000c7"/>
<circle cx="260.3" cy="235.4" r="5.3" fill="#0000c7"/>
<circle cx="254.4" cy="238.2" r="5.3" fill="#0000c7"/>
<circle cx="247.1" cy="239.6" r="5.3" fill="#0000b7"/>
<circle cx="241.5" cy="241.7" r="5.3" fill="#0000b7"/>
<circle cx="236.9" cy="243.4" r="5.3" fill="#0000b7"/>
<circle cx="229.4" cy="244.8" r="5.3" fill="#0000c7"/>
<circle cx="224.5" cy="246" r="5.3" fill="#0000b7"/>
<circle cx="216.9" cy="247.8" r="5.3" fill="#0000d7"/>
<circle cx="212.3" cy="251.2" r="5.3" fill="#0000c7"/>
<circle cx="205.1" cy="251.3" r="5.3" fill="#0000a7"/>
<circle cx="200.3" cy="253.4" r="5.3" fill="#0000b7"/>
<circle cx="193" cy="256.3" r="5.3" fill="#0000b7"/>
<circle cx="188.6" cy="257.6" r="5.3" fill="#0000a7"/>
<circle cx="182" cy="259.9" r="5.3" fill="#0000b7"/>
<circle cx="175.3" cy="260.9" r="5.3" fill="#0000b7"/>
<circle cx="170.4" cy="263.5" r="5.3" fill="#0000d7"/>
<circle cx="163" cy="264.6" r="5.3" fill="#0000b7"/>
<circle cx="157.3" cy="265.8" r="5.3" fill="#0000c7"/>
<circle cx="151.4" cy="268.2" r="5.3" fill="#0000b7"/>
<circle cx="397.4" cy="199.3" r="5.3" fill="#0008ff"/>
<circle cx="390.5" cy="201.2" r="5.3" fill="#0008ff"/>
<circle cx="385.1" cy="202.8" r="5.3" fill="#0000f7"/>
<circle cx="379.9" cy="205.1" r="5.3" fill="#0000e7"/>
<circle cx="373.6" cy="206.8" r="5.3" fill="#0018ff"/>
<circle cx="368.2" cy="207.9" r="5.3" fill="#0000d7"/>
<circle cx="360.8" cy="209.4" r="5.3" fill="#0000d7"/>
<circle cx="355.5" cy="212.3" r="5.3" fill="#0000e7"/>
<circle cx="349.7" cy="212.9" r="5.3" fill="#0000d7"/>
<circle cx="342.5" cy="215.8" r="5.3" fill="#0000f7"/>
<circle cx="337.7" cy="217.6" r="5.3" fill="#0000d7"/>
<circle cx="331.8" cy="218.4" r="5.3" fill="#0000c7"/>
<circle cx="326" cy="219.9" r="5.3" fill="#0000c7"/>
<circle cx="319.9" cy="222.1" r="5.3" fill="#0000b7"/>
<circle cx="312" cy="223.6" r="5.3" fill="#0000d7"/>
<circle cx="306.4" cy="226.3" r="5.3" fill="#0000b7"/>
<circle cx="301.3" cy="228" r="5.3" fill="#0000c7"/>
<circle cx="294.3" cy="228.6" r="5.3" fill="#0000b7"/>
<circle cx="289.9" cy="231.5" r="5.3" fill="#0000c7"/>
<circle cx="283.2" cy="232.7" r="5.3" fill="#0000b7"/>
<circle cx="276.5" cy="234.2" r="5.3" fill="#0000a7"/>
<circle cx="271.2" cy="236.2" r="5.3" fill="#0000c7"/>
<circle cx="264.3" cy="238.2" r="5.3" fill="#0000b7"/>
<circle cx="257.8" cy="241" r="5.3" fill="#0000b7"/>
<circle cx="253.4" cy="241.5" r="5.3" fill="#0000d7"/>
<circle cx="246.2" cy="242.9" r="5.3" fill="#0000c7"/>
<circle cx="241" cy="245.7" r="5.3" fill="#0000c7"/>
<circle cx="233.7" cy="248.2" r="5.3" fill="#0000b7"/>
<circle cx="228" cy="248.4" r="5.3" fill="#0000b7"/>
<circle cx="223.6" cy="250.7" r="5.3" fill="#0000c7"/>
<circle cx="216" cy="252.5" r="5.3" fill="#0000b7"/>
<circle cx="211.1" cy="254.1" r="5.3" fill="#0000b7"/>
<circle cx="203.8" cy="255.8" r="5.3" fill="#0000b7"/>
<circle cx="198.4" cy="258.8" r="5.3" fill="#0000b7"/>
<circle cx="191.8" cy="259" r="5.3" fill="#0000c7"/>
<circle cx="186.8" cy="260.9" r="5.3" fill="#0000b7"/>
<circle cx="179.8" cy="263.3" r="5.3" fill="#0000c7"/>
<circle cx="174.3" cy="266" r="5.3" fill="#0000c7"/>
<circle cx="168.8" cy="267.1" r="5.3" fill="#0000b7"/>
<circle cx="161.4" cy="269.6" r="5.3" fill="#0000c7"/>
<circle cx="156.5" cy="270.5" r="5.3" fill="#0000b7"/>
<circle cx="401.9" cy="201.5" r="5.3" fill="#0018ff"/>
<circle cx="395.3" cy="203.4" r="5.3" fill="#0008ff"/>
<circle cx="389.9" cy="204.4" r="5.3" fill="#0000f7"/>
<circle cx="382.8" cy="206.7" r="5.3" fill="#0008ff"/>
<circle cx="377.8" cy="208.7" r="5.3" fill="#0000e7"/>
<circle cx="372.8" cy="210.7" r="5.3" fill="#0000e7"/>
<circle cx="365.1" cy="211.6" r="5.3" fill="#0000e7"/>
<circle cx="359.1" cy="213" r="5.3" fill="#0000c7"/>
<circle cx="354.3" cy="215.8" r="5.3" fill="#0000d7"/>
<circle cx="346.6" cy="218.3" r="5.3" fill="#0000d7"/>
<circle cx="342.7" cy="219.2" r="5.3" fill="#0000d7"/>
<circle cx="336.4" cy="220.5" r="5.3" fill="#0000d7"/>
<circle cx="330.6" cy="222.5" r="5.3" fill="#0000d7"/>
<circle cx="322.5" cy="224.4" r="5.3" fill="#0000c7"/>
<circle cx="317.8" cy="226" r="5.3" fill="#0000b7"/>
<circle cx="310.7" cy="227.7" r="5.3" fill="#0000c7"/>
<circle cx="304.7" cy="230" r="5.3" fill="#0000d7"/>
<circle cx="298.9" cy="231.2" r="5.3" fill="#0000b7"/>
<circle cx="294.3" cy="233.9" r="5.3" fill="#0000b7"/>
<circle cx="288.4" cy="235.2" r="5.3" fill="#0000c7"/>
<circle cx="280.3" cy="236.8" r="5.3" fill="#0000c7"/>
<circle cx="275.2" cy="239" r="5.3" fill="#0000c7"/>
<circle cx="269.4" cy="240" r="5.3" fill="#0000b7"/>
<circle cx="264" cy="243.2" r="5.3" fill="#0000c7"/>
<circle cx="258.2" cy="244.4" r="5.3" fill="#0000c7"/>
<circle cx="250.7" cy="245.9" r="5.3" fill="#0000c7"/>
<circle cx="245.8" cy="248.1" r="5.3" fill="#0000b7"/>
<circle cx="238.1" cy="249.6" r="5.3" fill="#0000b7"/>
<circle cx="232.5" cy="252.3" r="5.3" fill="#0000b7"/>
<circle cx="228.2" cy="252.7" r="5.3" fill="#0000b7"/>
<circle cx="220.5" cy="255.5" r="5.3" fill="#0000b7"/>
<circle cx="214.3" cy="256.3" r="5.3" fill="#0000b7"/>
<circle cx="208.3" cy="258.5" r="5.3" fill="#0000c7"/>
<circle cx="204" cy="260.6" r="5.3" fill="#0000b7"/>
<circle cx="196.3" cy="262.2" r="5.3" fill="#0000b7"/>
<circle cx="190.7" cy="264.8" r="5.3" fill="#0000c7"/>
<circle cx="185.3" cy="266.2" r="5.3" fill="#0000b7"/>
<circle cx="178.5" cy="267.1" r="5.3" fill="#0000c7"/>
<circle cx="173.7" cy="269.5" r="5.3" fill="#0000b7"/>
<circle cx="167.4" cy="270.8" r="5.3" fill="#0000c7"/>
<circle cx="161" cy="272.7" r="5.3" fill="#0000c7"/>
<circle cx="406.9" cy="203.4" r="5.3" fill="#0018ff"/>
<circle cx="399.8" cy="205.2" r="5.3" fill="#0028ff"/>
<circle cx="394.5" cy="206.8" r="5.3" fill="#0000f7"/>
<circle cx="387.6" cy="209.3" r="5.3" fill="#0008ff"/>
<circle cx="383" cy="210.6" r="5.3" fill="#0000f7"/>
<circle cx="376.6" cy="211.8" r="5.3" fill="#0000e7"/>
<circle cx="370.9" cy="213.9" r="5.3" fill="#0000f7"/>
<circle cx="364.6" cy="215.7" r="5.3" fill="#0000e7"/>
<circle cx="357.8" cy="217.3" r="5.3" fill="#0000d7"/>
<circle cx="351.6" cy="219.9" r="5.3" fill="#0000d7"/>
<circle cx="345.8" cy="221.4" r="5.3" fill="#0000e7"/>
<circle cx="340.8" cy="222.9" r="5.3" fill="#0000e7"/>
<circle cx="334.5" cy="225.9" r="5.3" fill="#0000d7"/>
<circle cx="327.7" cy="226.3" r="5.3" fill="#0000d7"/>
<circle cx="322.7" cy="229.6" r="5.3" fill="#0000e7"/>
<circle cx="316.6" cy="229.7" r="5.3" fill="#0000d7"/>
<circle cx="310.2" cy="231.7" r="5.3" fill="#0000d7"/>
<circle cx="303.4" cy="233.4" r="5.3" fill="#0000e7"/>
<circle cx="298.5" cy="236" r="5.3" fill="#0000c7"/>
<circle cx="291.8" cy="237.7" r="5.3" fill="#0000d7"/>
<circle cx="285.6" cy="239.4" r="5.3" fill="#0000d7"/>
<circle cx="279.9" cy="242" r="5.3" fill="#0000c7"/>
<circle cx="273.9" cy="243.3" r="5.3" fill="#0000d7"/>
<circle cx="268.8" cy="244.2" r="5.3" fill="#0000d7"/>
<circle cx="261" cy="247.1" r="5.3" fill="#0000c7"/>
<circle cx="255.6" cy="247.7" r="5.3" fill="#0000c7"/>
<circle cx="250.4" cy="249.6" r="5.3" fill="#0000d7"/>
<circle cx="243.9" cy="252.6" r="5.3" fill="#0000d7"/>
<circle cx="237.6" cy="253.5" r="5.3" fill="#0000d7"/>
<circle cx="230.9" cy="255.2" r="5.3" fill="#0000d7"/>
<circle cx="225.7" cy="258.2" r="5.3" fill="#0000c7"/>
<circle cx="220.2" cy="259.6" r="5.3" fill="#0000c7"/>
<circle cx="212.8" cy="261.5" r="5.3" fill="#0000d7"/>
<circle cx="207.6" cy="263.6" r="5.3" fill="#0000d7"/>
<circle cx="200.9" cy="265" r="5.3" fill="#0000e7"/>
<circle cx="196.3" cy="267" r="5.3" fill="#0000d7"/>
<circle cx="189.8" cy="268.8" r="5.3" fill="#0000d7"/>
<circle cx="184.2" cy="269.5" r="5.3" fill="#0000d7"/>
<circle cx="177.2" cy="271" r="5.3" fill="#0000d7"/>
<circle cx="171.8" cy="274.2" r="5.3" fill="#0000d7"/>
<circle cx="165.7" cy="275.5" r="5.3" fill="#0000c7"/>
<circle cx="411" cy="206.1" r="5.3" fill="#0008ff"/>
<circle cx="405.2" cy="207.5" r="5.3" fill="#0008ff"/>
<circle cx="399.9" cy="210.3" r="5.3" fill="#0018ff"/>
<circle cx="393.5" cy="211.7" r="5.3" fill="#0028ff"/>
<circle cx="387" cy="212.9" r="5.3" fill="#0018ff"/>
<circle cx="380.4" cy="214.7" r="5.3" fill="#0000f7"/>
<circle cx="374" cy="217.3" r="5.3" fill="#0000f7"/>
<circle cx="369.5" cy="218" r="5.3" fill="#0000f7"/>
<circle cx="364" cy="220" r="5.3" fill="#0000e7"/>
<circle cx="357.8" cy="222.6" r="5.3" fill="#0000d7"/>
<circle cx="350" cy="224.1" r="5.3" fill="#0000e7"/>
<circle cx="344.7" cy="226.4" r="5.3" fill="#0000f7"/>
<circle cx="338.5" cy="228.3" r="5.3" fill="#0000e7"/>
<circle cx="331.8" cy="229.5" r="5.3" fill="#0000e7"/>
<circle cx="325.9" cy="231.1" r="5.3" fill="#0000d7"/>
<circle cx="320.2" cy="233.3" r="5.3" fill="#0000e7"/>
<circle cx="315.8" cy="234.5" r="5.3" fill="#0000e7"/>
<circle cx="308.1" cy="236.1" r="5.3" fill="#0000d7"/>
<circle cx="302.8" cy="238.2" r="5.3" fill="#0000e7"/>
<circle cx="297.8" cy="240.1" r="5.3" fill="#0000d7"/>
<circle cx="290.7" cy="242.3" r="5.3" fill="#0000e7"/>
<circle cx="284" cy="242.8" r="5.3" fill="#0000e7"/>
<circle cx="279.6" cy="245.4" r="5.3" fill="#0000c7"/>
<circle cx="272.8" cy="247.7" r="5.3" fill="#0000e7"/>
<circle cx="266" cy="248.8" r="5.3" fill="#0000d7"/>
<circle cx="259.4" cy="250.5" r="5.3" fill="#0000d7"/>
<circle cx="253.9" cy="252.6" r="5.3" fill="#0000d7"/>
<circle cx="247.8" cy="254.5" r="5.3" fill="#0000e7"/>
<circle cx="242.9" cy="255.7" r="5.3" fill="#0000d7"/>
<circle cx="237.4" cy="257.8" r="5.3" fill="#0000e7"/>
<circle cx="230.7" cy="259.1" r="5.3" fill="#0000e7"/>
<circle cx="224" cy="262" r="5.3" fill="#0000d7"/>
<circle cx="218.1" cy="263.5" r="5.3" fill="#0000e7"/>
<circle cx="211.4" cy="264.5" r="5.3" fill="#0000e7"/>
<circle cx="206.2" cy="266.8" r="5.3" fill="#0000e7"/>
<circle cx="200.1" cy="268.1" r="5.3" fill="#0000e7"/>
<circle cx="193.2" cy="270.8" r="5.3" fill="#0000e7"/>
<circle cx="188" cy="272" r="5.3" fill="#0000e7"/>
<circle cx="182.9" cy="274.2" r="5.3" fill="#0000d7"/>
<circle cx="175.8" cy="276.1" r="5.3" fill="#0000f7"/>
<circle cx="169.9" cy="277.6" r="5.3" fill="#0000e7"/>
<circle cx="415.6" cy="208.3" r="5.3" fill="#0008ff"/>
<circle cx="410.1" cy="209.9" r="5.3" fill="#0028ff"/>
<circle cx="403" cy="211.2" r="5.3" fill="#0028ff"/>
<circle cx="397.3" cy="213.7" r="5.3" fill="#0058ff"/>
<circle cx="391.3" cy="215.6" r="5.3" fill="#0008ff"/>
<circle cx="385.3" cy="217.1" r="5.3" fill="#0018ff"/>
<circle cx="379.3" cy="218.9" r="5.3" fill="#0000f7"/>
<circle cx="373.1" cy="220.6" r="5.3" fill="#0000f7"/>
<circle cx="366.5" cy="222.1" r="5.3" fill="#0008ff"/>
<circle cx="360.9" cy="223.7" r="5.3" fill="#0018ff"/>
<circle cx="356.4" cy="227.1" r="5.3" fill="#0008ff"/>
<circle cx="350.4" cy="227.9" r="5.3" fill="#0000e7"/>
<circle cx="343.2" cy="229.1" r="5.3" fill="#0008ff"/>
<circle cx="338.5" cy="230.8" r="5.3" fill="#0008ff"/>
<circle cx="331.9" cy="233.6" r="5.3" fill="#0028ff"/>
<circle cx="325.6" cy="235.5" r="5.3" fill="#0008ff"/>
<circle cx="319.2" cy="236.8" r="5.3" fill="#0008ff"/>
<circle cx="314.4" cy="239.2" r="5.3" fill="#0000f7"/>
<circle cx="307" cy="241" r="5.3" fill="#0000f7"/>
<circle cx="300.2" cy="242.3" r="5.3" fill="#0008ff"/>
<circle cx="296.1" cy="244.3" r="5.3" fill="#0000f7"/>
<circle cx="290" cy="246.7" r="5.3" fill="#0000f7"/>
<circle cx="282.9" cy="248.1" r="5.3" fill="#0000e7"/>
<circle cx="277.2" cy="248.6" r="5.3" fill="#0008ff"/>
<circle cx="271.3" cy="251.7" r="5.3" fill="#0000f7"/>
<circle cx="266" cy="253.3" r="5.3" fill="#0000e7"/>
<circle cx="260" cy="255.4" r="5.3" fill="#0000f7"/>
<circle cx="253.5" cy="256.4" r="5.3" fill="#0000f7"/>
<circle cx="246.3" cy="259.1" r="5.3" fill="#0000f7"/>
<circle cx="240.1" cy="261" r="5.3" fill="#0000e7"/>
<circle cx="235.1" cy="262.8" r="5.3" fill="#0000f7"/>
<circle cx="228" cy="264.3" r="5.3" fill="#0000e7"/>
<circle cx="223.7" cy="265.5" r="5.3" fill="#0000f7"/>
<circle cx="217.2" cy="266.7" r="5.3" fill="#0000f7"/>
<circle cx="211.2" cy="268.8" r="5.3" fill="#0000e7"/>
<circle cx="205.9" cy="270.9" r="5.3" fill="#0000e7"/>
<circle cx="198.7" cy="273.4" r="5.3" fill="#0000e7"/>
<circle cx="191.9" cy="275" r="5.3" fill="#0000e7"/>
<circle cx="187.8" cy="276.4" r="5.3" fill="#0008ff"/>
<circle cx="180.4" cy="277.7" r="5.3" fill="#0000f7"/>
<circle cx="174.4" cy="280.1" r="5.3" fill="#0000f7"/>
<circle cx="420.4" cy="210.8" r="5.3" fill="#0028ff"/>
<circle cx="413.7" cy="211.8" r="5.3" fill="#0018ff"/>
<circle cx="408.3" cy="214" r="5.3" fill="#0018ff"/>
<circle cx="402.9" cy="215.6" r="5.3" fill="#0038ff"/>
<circle cx="396.5" cy="218.7" r="5.3" fill="#0018ff"/>
<circle cx="391" cy="219.5" r="5.3" fill="#0018ff"/>
<circle cx="384.6" cy="221.9" r="5.3" fill="#0038ff"/>
<circle cx="379.2" cy="224" r="5.3" fill="#0018ff"/>
<circle cx="372" cy="224.4" r="5.3" fill="#0028ff"/>
<circle cx="365.6" cy="226.6" r="5.3" fill="#0028ff"/>
<circle cx="359.4" cy="229.3" r="5.3" fill="#0000f7"/>
<circle cx="353.3" cy="230.5" r="5.3" fill="#0008ff"/>
<circle cx="347.7" cy="231.3" r="5.3" fill="#0018ff"/>
<circle cx="342.3" cy="234.1" r="5.3" fill="#0018ff"/>
<circle cx="337" cy="236" r="5.3" fill="#0018ff"/>
<circle cx="329.7" cy="237.7" r="5.3" fill="#0000f7"/>
<circle cx="325" cy="238.5" r="5.3" fill="#0008ff"/>
<circle cx="317.9" cy="240.4" r="5.3" fill="#0018ff"/>
<circle cx="312.8" cy="243.8" r="5.3" fill="#0008ff"/>
<circle cx="304.9" cy="244.6" r="5.3" fill="#0000c7"/>
<circle cx="298.8" cy="246.3" r="5.3" fill="#0018ff"/>
<circle cx="292.8" cy="247.7" r="5.3" fill="#0018ff"/>
<circle cx="288.7" cy="249.7" r="5.3" fill="#0018ff"/>
<circle cx="282.8" cy="251.7" r="5.3" fill="#0018ff"/>
<circle cx="276.8" cy="252.9" r="5.3" fill="#0008ff"/>
<circle cx="269.4" cy="255.7" r="5.3" fill="#0008ff"/>
<circle cx="264" cy="257.5" r="5.3" fill="#0028ff"/>
<circle cx="257.3" cy="259.7" r="5.3" fill="#0018ff"/>
<circle cx="250.9" cy="261" r="5.3" fill="#0008ff"/>
<circle cx="245.8" cy="262.7" r="5.3" fill="#0008ff"/>
<circle cx="238.6" cy="264.3" r="5.3" fill="#0000c7"/>
<circle cx="234.3" cy="265.7" r="5.3" fill="#0008ff"/>
<circle cx="227.2" cy="268.4" r="5.3" fill="#0018ff"/>
<circle cx="221.4" cy="269.8" r="5.3" fill="#0008ff"/>
<circle cx="214.5" cy="270.8" r="5.3" fill="#0018ff"/>
<circle cx="209.3" cy="273" r="5.3" fill="#0008ff"/>
<circle cx="202.7" cy="274.8" r="5.3" fill="#0000e7"/>
<circle cx="197.2" cy="276.3" r="5.3" fill="#0008ff"/>
<circle cx="191.7" cy="278.1" r="5.3" fill="#0008ff"/>
<circle cx="185" cy="279.8" r="5.3" fill="#0008ff"/>
<circle cx="179.1" cy="282.4" r="5.3" fill="#0000f7"/>
<circle cx="425.3" cy="212.8" r="5.3" fill="#0018ff"/>
<circle cx="418.1" cy="215.2" r="5.3" fill="#0038ff"/>
<circle cx="413.3" cy="216.1" r="5.3" fill="#0038ff"/>
<circle cx="406.2" cy="217.6" r="5.3" fill="#0018ff"/>
<circle cx="400" cy="220.2" r="5.3" fill="#0000f7"/>
<circle cx="394.9" cy="222.5" r="5.3" fill="#0018ff"/>
<circle cx="388.8" cy="223.1" r="5.3" fill="#0028ff"/>
<circle cx="383.3" cy="225.7" r="5.3" fill="#0028ff"/>
<circle cx="377.5" cy="226.6" r="5.3" fill="#0038ff"/>
<circle cx="371.3" cy="228.9" r="5.3" fill="#0028ff"/>
<circle cx="364.2" cy="231.8" r="5.3" fill="#0028ff"/>
<circle cx="359.2" cy="233.4" r="5.3" fill="#0028ff"/>
<circle cx="353.2" cy="233.8" r="5.3" fill="#0028ff"/>
<circle cx="345.6" cy="236" r="5.3" fill="#0000e7"/>
<circle cx="341.5" cy="238.6" r="5.3" fill="#0048ff"/>
<circle cx="334.9" cy="240.7" r="5.3" fill="#0038ff"/>
<circle cx="328.5" cy="241.4" r="5.3" fill="#0018ff"/>
<circle cx="321.9" cy="243.1" r="5.3" fill="#0018ff"/>
<circle cx="316.9" cy="244.7" r="5.3" fill="#0018ff"/>
<circle cx="310.9" cy="247.5" r="5.3" fill="#0018ff"/>
<circle cx="304.5" cy="248.6" r="5.3" fill="#0018ff"/>
<circle cx="299.1" cy="250.6" r="5.3" fill="#0028ff"/>
<circle cx="292.1" cy="252.1" r="5.3" fill="#0018ff"/>
<circle cx="285.7" cy="253.7" r="5.3" fill="#0018ff"/>
<circle cx="280.7" cy="256.3" r="5.3" fill="#0028ff"/>
<circle cx="273.3" cy="258.6" r="5.3" fill="#0028ff"/>
<circle cx="269" cy="259.1" r="5.3" fill="#0008ff"/>
<circle cx="262.8" cy="261.3" r="5.3" fill="#0018ff"/>
<circle cx="256.7" cy="263.9" r="5.3" fill="#0018ff"/>
<circle cx="250" cy="264.6" r="5.3" fill="#0028ff"/>
<circle cx="243.7" cy="267.5" r="5.3" fill="#0028ff"/>
<circle cx="239" cy="268.4" r="5.3" fill="#0028ff"/>
<circle cx="231.3" cy="271" r="5.3" fill="#0028ff"/>
<circle cx="225.6" cy="271.2" r="5.3" fill="#0018ff"/>
<circle cx="219.8" cy="274.4" r="5.3" fill="#0000e7"/>
<circle cx="213.4" cy="274.8" r="5.3" fill="#0018ff"/>
<circle cx="207.4" cy="278.1" r="5.3" fill="#0018ff"/>
<circle cx="202.2" cy="278.9" r="5.3" fill="#0028ff"/>
<circle cx="196.2" cy="281.1" r="5.3" fill="#0038ff"/>
<circle cx="189.8" cy="282.6" r="5.3" fill="#0028ff"/>
<circle cx="183.7" cy="284.8" r="5.3" fill="#0028ff"/>
<circle cx="429.3" cy="215.5" r="5.3" fill="#0048ff"/>
<circle cx="423.6" cy="218" r="5.3" fill="#0038ff"/>
<circle cx="417.8" cy="219.4" r="5.3" fill="#0048ff"/>
<circle cx="412.2" cy="220" r="5.3" fill="#0038ff"/>
<circle cx="406.6" cy="221.8" r="5.3" fill="#0038ff"/>
<circle cx="398.6" cy="223.6" r="5.3" fill="#0000e7"/>
<circle cx="393" cy="226.5" r="5.3" fill="#0038ff"/>
<circle cx="387.5" cy="227.9" r="5.3" fill="#0018ff"/>
<circle cx="382.2" cy="229.4" r="5.3" fill="#0038ff"/>
<circle cx="374.9" cy="230.7" r="5.3" fill="#0048ff"/>
<circle cx="369.7" cy="233.3" r="5.3" fill="#0058ff"/>
<circle cx="363" cy="234.9" r="5.3" fill="#0048ff"/>
<circle cx="356.6" cy="237.1" r="5.3" fill="#0058ff"/>
<circle cx="350.7" cy="239.2" r="5.3" fill="#0038ff"/>
<circle cx="345.8" cy="239.6" r="5.3" fill="#0028ff"/>
<circle cx="339.6" cy="242.2" r="5.3" fill="#0058ff"/>
<circle cx="333.5" cy="244.3" r="5.3" fill="#0038ff"/>
<circle cx="327.4" cy="245.2" r="5.3" fill="#0048ff"/>
<circle cx="320.3" cy="247.6" r="5.3" fill="#0028ff"/>
<circle cx="315.5" cy="249.5" r="5.3" fill="#0038ff"/>
<circle cx="308.5" cy="251.1" r="5.3" fill="#0028ff"/>
<circle cx="302.7" cy="252.9" r="5.3" fill="#0048ff"/>
<circle cx="296.2" cy="254.9" r="5.3" fill="#0058ff"/>
<circle cx="291.5" cy="256.1" r="5.3" fill="#0068ff"/>
<circle cx="285" cy="257.4" r="5.3" fill="#0048ff"/>
<circle cx="279.4" cy="260.2" r="5.3" fill="#0048ff"/>
<circle cx="272.6" cy="261" r="5.3" fill="#0048ff"/>
<circle cx="267.2" cy="263" r="5.3" fill="#0038ff"/>
<circle cx="261.8" cy="266.2" r="5.3" fill="#0048ff"/>
<circle cx="255.5" cy="266.9" r="5.3" fill="#0058ff"/>
<circle cx="248.2" cy="268.3" r="5.3" fill="#0058ff"/>
<circle cx="243.6" cy="270.2" r="5.3" fill="#0048ff"/>
<circle cx="236.6" cy="272.1" r="5.3" fill="#0028ff"/>
<circle cx="231.4" cy="274" r="5.3" fill="#0048ff"/>
<circle cx="224.1" cy="277" r="5.3" fill="#0038ff"/>
<circle cx="217.6" cy="278.5" r="5.3" fill="#0038ff"/>
<circle cx="212" cy="279.5" r="5.3" fill="#0038ff"/>
<circle cx="206.7" cy="281" r="5.3" fill="#0038ff"/>
<circle cx="201.2" cy="282.8" r="5.3" fill="#0058ff"/>
<circle cx="193.7" cy="284.8" r="5.3" fill="#0038ff"/>
<circle cx="188.6" cy="286.8" r="5.3" fill="#0038ff"/>
<circle cx="434.1" cy="217.9" r="5.3" fill="#0048ff"/>
<circle cx="427.4" cy="220" r="5.3" fill="#0028ff"/>
<circle cx="422.6" cy="221.8" r="5.3" fill="#0048ff"/>
<circle cx="415.5" cy="222.3" r="5.3" fill="#0028ff"/>
<circle cx="409.5" cy="225.5" r="5.3" fill="#0038ff"/>
<circle cx="404.3" cy="226.1" r="5.3" fill="#0048ff"/>
<circle cx="398.1" cy="229" r="5.3" fill="#0038ff"/>
<circle cx="391" cy="230.7" r="5.3" fill="#0087ff"/>
<circle cx="386.6" cy="231.7" r="5.3" fill="#0048ff"/>
<circle cx="380.3" cy="233.6" r="5.3" fill="#0068ff"/>
<circle cx="374.4" cy="235" r="5.3" fill="#0068ff"/>
<circle cx="368.7" cy="238.1" r="5.3" fill="#0048ff"/>
<circle cx="361.4" cy="238.4" r="5.3" fill="#0078ff"/>
<circle cx="355.8" cy="240.7" r="5.3" fill="#0058ff"/>
<circle cx="349.2" cy="241.9" r="5.3" fill="#0068ff"/>
<circle cx="344.4" cy="245.4" r="5.3" fill="#0058ff"/>
<circle cx="337.6" cy="247.1" r="5.3" fill="#0058ff"/>
<circle cx="332.8" cy="248.1" r="5.3" fill="#0048ff"/>
<circle cx="326.5" cy="249.9" r="5.3" fill="#0048ff"/>
<circle cx="319.5" cy="252" r="5.3" fill="#0068ff"/>
<circle cx="313.1" cy="253.6" r="5.3" fill="#0048ff"/>
<circle cx="308.5" cy="256.1" r="5.3" fill="#0058ff"/>
<circle cx="302.4" cy="257" r="5.3" fill="#0078ff"/>
<circle cx="296.1" cy="258.3" r="5.3" fill="#0068ff"/>
<circle cx="288.5" cy="260.5" r="5.3" fill="#0048ff"/>
<circle cx="282.7" cy="262.8" r="5.3" fill="#0058ff"/>
<circle cx="277.6" cy="264.8" r="5.3" fill="#0058ff"/>
<circle cx="272.5" cy="265.2" r="5.3" fill="#0078ff"/>
<circle cx="265.2" cy="267.8" r="5.3" fill="#0048ff"/>
<circle cx="259" cy="270.4" r="5.3" fill="#0048ff"/>
<circle cx="254.4" cy="271.1" r="5.3" fill="#0048ff"/>
<circle cx="247.9" cy="272.8" r="5.3" fill="#0038ff"/>
<circle cx="242.2" cy="274.4" r="5.3" fill="#0058ff"/>
<circle cx="234.6" cy="276.8" r="5.3" fill="#0038ff"/>
<circle cx="228.7" cy="278.7" r="5.3" fill="#0028ff"/>
<circle cx="224.2" cy="280" r="5.3" fill="#0058ff"/>
<circle cx="218.2" cy="281.4" r="5.3" fill="#0038ff"/>
<circle cx="210.9" cy="283.3" r="5.3" fill="#0008ff"/>
<circle cx="204.6" cy="285" r="5.3" fill="#0058ff"/>
<circle cx="198.4" cy="288.1" r="5.3" fill="#0068ff"/>
<circle cx="193.4" cy="289.1" r="5.3" fill="#0058ff"/>
<circle cx="438.8" cy="220.1" r="5.3" fill="#0058ff"/>
<circle cx="433.2" cy="222" r="5.3" fill="#0058ff"/>
<circle cx="426.1" cy="223.5" r="5.3" fill="#0048ff"/>
<circle cx="420.3" cy="225.7" r="5.3" fill="#0058ff"/>
<circle cx="414.1" cy="226.5" r="5.3" fill="#0078ff"/>
<circle cx="408.4" cy="228.8" r="5.3" fill="#0048ff"/>
<circle cx="403.5" cy="231.7" r="5.3" fill="#0078ff"/>
<circle cx="396.9" cy="232" r="5.3" fill="#0078ff"/>
<circle cx="390.8" cy="233.6" r="5.3" fill="#0097ff"/>
<circle cx="384.9" cy="235.6" r="5.3" fill="#0087ff"/>
<circle cx="378.9" cy="237.2" r="5.3" fill="#0068ff"/>
<circle cx="371.5" cy="239.2" r="5.3" fill="#0068ff"/>
<circle cx="366.2" cy="241.9" r="5.3" fill="#0097ff"/>
<circle cx="360.6" cy="243.3" r="5.3" fill="#0078ff"/>
<circle cx="355.1" cy="246" r="5.3" fill="#0097ff"/>
<circle cx="349" cy="247.3" r="5.3" fill="#0058ff"/>
<circle cx="341.9" cy="249.2" r="5.3" fill="#0097ff"/>
<circle cx="337" cy="251.1" r="5.3" fill="#0068ff"/>
<circle cx="329.6" cy="252.4" r="5.3" fill="#0087ff"/>
<circle cx="323.6" cy="254.4" r="5.3" fill="#0078ff"/>
<circle cx="319.1" cy="255.5" r="5.3" fill="#0087ff"/>
<circle cx="312.1" cy="257.4" r="5.3" fill="#0018ff"/>
<circle cx="305.1" cy="260.2" r="5.3" fill="#00a7ff"/>
<circle cx="299.3" cy="261.6" r="5.3" fill="#00c7ff"/>
<circle cx="293.7" cy="263.8" r="5.3" fill="#0058ff"/>
<circle cx="287.3" cy="265.4" r="5.3" fill="#0048ff"/>
<circle cx="282.6" cy="266.7" r="5.3" fill="#0097ff"/>
<circle cx="275.6" cy="268.2" r="5.3" fill="#0078ff"/>
<circle cx="270.7" cy="270.4" r="5.3" fill="#0087ff"/>
<circle cx="264.2" cy="271.6" r="5.3" fill="#0048ff"/>
<circle cx="257.7" cy="274.1" r="5.3" fill="#0078ff"/>
<circle cx="253" cy="276" r="5.3" fill="#0087ff"/>
<circle cx="245.6" cy="276.6" r="5.3" fill="#0058ff"/>
<circle cx="240.3" cy="279.8" r="5.3" fill="#0048ff"/>
<circle cx="233.6" cy="281.7" r="5.3" fill="#0078ff"/>
<circle cx="228.2" cy="282.1" r="5.3" fill="#0087ff"/>
<circle cx="221.8" cy="283.6" r="5.3" fill="#0078ff"/>
<circle cx="215.6" cy="286.9" r="5.3" fill="#0058ff"/>
<circle cx="209.4" cy="288" r="5.3" fill="#0078ff"/>
<circle cx="203.4" cy="290" r="5.3" fill="#0068ff"/>
<circle cx="197.4" cy="291.4" r="5.3" fill="#0087ff"/>
<circle cx="443.6" cy="222.6" r="5.3" fill="#0087ff"/>
<circle cx="436.4" cy="223.9" r="5.3" fill="#0078ff"/>
<circle cx="431.5" cy="225.7" r="5.3" fill="#0078ff"/>
<circle cx="425.9" cy="228.3" r="5.3" fill="#0058ff"/>
<circle cx="420.2" cy="230.4" r="5.3" fill="#0068ff"/>
<circle cx="413.7" cy="230.9" r="5.3" fill="#0078ff"/>
<circle cx="406.7" cy="233.2" r="5.3" fill="#00a7ff"/>
<circle cx="401.5" cy="234.6" r="5.3" fill="#0078ff"/>
<circle cx="396.2" cy="236.8" r="5.3" fill="#0058ff"/>
<circle cx="389.3" cy="238.9" r="5.3" fill="#00a7ff"/>
<circle cx="383.5" cy="240.3" r="5.3" fill="#00c7ff"/>
<circle cx="376.8" cy="242.7" r="5.3" fill="#0028ff"/>
<circle cx="371.5" cy="244.4" r="5.3" fill="#38ffc7"/>
<circle cx="365.6" cy="245.7" r="5.3" fill="#00a7ff"/>
<circle cx="360.1" cy="247.9" r="5.3" fill="#0087ff"/>
<circle cx="352.8" cy="248.9" r="5.3" fill="#00a7ff"/>
<circle cx="347.6" cy="251.8" r="5.3" fill="#0097ff"/>
<circle cx="342" cy="252.2" r="5.3" fill="#00a7ff"/>
<circle cx="335.9" cy="253.8" r="5.3" fill="#0097ff"/>
<circle cx="328.5" cy="256.7" r="5.3" fill="#0087ff"/>
<circle cx="322.9" cy="257.5" r="5.3" fill="#0078ff"/>
<circle cx="317.9" cy="260.5" r="5.3" fill="#0097ff"/>
<circle cx="311.6" cy="261" r="5.3" fill="#0087ff"/>
<circle cx="305.6" cy="264.4" r="5.3" fill="#0087ff"/>
<circle cx="298.4" cy="265.7" r="5.3" fill="#0078ff"/>
<circle cx="292.3" cy="266.7" r="5.3" fill="#0078ff"/>
<circle cx="287.6" cy="268.4" r="5.3" fill="#0078ff"/>
<circle cx="281.3" cy="271.2" r="5.3" fill="#0078ff"/>
<circle cx="275.3" cy="272.4" r="5.3" fill="#0087ff"/>
<circle cx="268.3" cy="275" r="5.3" fill="#0087ff"/>
<circle cx="261.7" cy="276.4" r="5.3" fill="#0087ff"/>
<circle cx="257.4" cy="277.7" r="5.3" fill="#0097ff"/>
<circle cx="250" cy="280.2" r="5.3" fill="#0078ff"/>
<circle cx="245" cy="280.8" r="5.3" fill="#0078ff"/>
<circle cx="239.1" cy="282.7" r="5.3" fill="#0078ff"/>
<circle cx="232.8" cy="285" r="5.3" fill="#0078ff"/>
<circle cx="226.4" cy="286.9" r="5.3" fill="#0068ff"/>
<circle cx="219.6" cy="288.6" r="5.3" fill="#0097ff"/>
<circle cx="215.5" cy="290.4" r="5.3" fill="#0087ff"/>
<circle cx="208.1" cy="291.5" r="5.3" fill="#0068ff"/>
<circle cx="202.5" cy="293.9" r="5.3" fill="#0068ff"/>
<circle cx="448.1" cy="224.9" r="5.3" fill="#0078ff"/>
<circle cx="443.1" cy="225.8" r="5.3" fill="#00c7ff"/>
<circle cx="435.8" cy="229.2" r="5.3" fill="#00b7ff"/>
<circle cx="429.7" cy="230.7" r="5.3" fill="#00c7ff"/>
<circle cx="423.8" cy="231.3" r="5.3" fill="#00a7ff"/>
<circle cx="419" cy="233.1" r="5.3" fill="#0097ff"/>
<circle cx="412.8" cy="236.2" r="5.3" fill="#0087ff"/>
<circle cx="404.9" cy="237.3" r="5.3" fill="#0097ff"/>
<circle cx="399.7" cy="238.8" r="5.3" fill="#0097ff"/>
<circle cx="394" cy="240.9" r="5.3" fill="#00a7ff"/>
<circle cx="387.8" cy="242.5" r="5.3" fill="#00a7ff"/>
<circle cx="380.8" cy="243.8" r="5.3" fill="#00d7ff"/>
<circle cx="375.2" cy="246.7" r="5.3" fill="#00a7ff"/>
<circle cx="368.7" cy="247.2" r="5.3" fill="#0097ff"/>
<circle cx="364.6" cy="250.3" r="5.3" fill="#0097ff"/>
<circle cx="358" cy="251.1" r="5.3" fill="#00a7ff"/>
<circle cx="352.2" cy="253.6" r="5.3" fill="#00c7ff"/>
<circle cx="344.9" cy="254.6" r="5.3" fill="#00a7ff"/>
<circle cx="339.2" cy="257.5" r="5.3" fill="#00a7ff"/>
<circle cx="333.7" cy="258.2" r="5.3" fill="#0078ff"/>
<circle cx="327.8" cy="259.8" r="5.3" fill="#00c7ff"/>
<circle cx="320.4" cy="262.2" r="5.3" fill="#0097ff"/>
<circle cx="315" cy="263.6" r="5.3" fill="#00b7ff"/>
<circle cx="309.1" cy="266.3" r="5.3" fill="#0097ff"/>
<circle cx="303.1" cy="268.5" r="5.3" fill="#0078ff"/>
<circle cx="297.5" cy="269.2" r="5.3" fill="#38ffc7"/>
<circle cx="292" cy="271.3" r="5.3" fill="#00a7ff"/>
<circle cx="285.9" cy="272.5" r="5.3" fill="#0097ff"/>
<circle cx="279.7" cy="275.3" r="5.3" fill="#0097ff"/>
<circle cx="273.6" cy="276.1" r="5.3" fill="#0087ff"/>
<circle cx="266.6" cy="278.1" r="5.3" fill="#0078ff"/>
<circle cx="261.7" cy="280.3" r="5.3" fill="#0097ff"/>
<circle cx="255.7" cy="281.3" r="5.3" fill="#00b7ff"/>
<circle cx="248.7" cy="284.5" r="5.3" fill="#00a7ff"/>
<circle cx="243.6" cy="285.7" r="5.3" fill="#00a7ff"/>
<circle cx="236" cy="287" r="5.3" fill="#0097ff"/>
<circle cx="232" cy="288.3" r="5.3" fill="#0097ff"/>
<circle cx="225.9" cy="290.5" r="5.3" fill="#0038ff"/>
<circle cx="218.2" cy="292.1" r="5.3" fill="#00a7ff"/>
<circle cx="212.6" cy="294.6" r="5.3" fill="#00a7ff"/>
<circle cx="207.3" cy="296.5" r="5.3" fill="#00a7ff"/>
<circle cx="452.4" cy="227.2" r="5.3" fill="#0097ff"/>
<circle cx="447.5" cy="228" r="5.3" fill="#00a7ff"/>
<circle cx="441.4" cy="230.3" r="5.3" fill="#00a7ff"/>
<circle cx="434.9" cy="232.3" r="5.3" fill="#0087ff"/>
<circle cx="427.6" cy="233.8" r="5.3" fill="#00c7ff"/>
<circle cx="421.8" cy="236.5" r="5.3" fill="#00c7ff"/>
<circle cx="415.7" cy="237.3" r="5.3" fill="#00d7ff"/>
<circle cx="410.1" cy="239.4" r="5.3" fill="#00c7ff"/>
<circle cx="405.3" cy="240.8" r="5.3" fill="#00e7ff"/>
<circle cx="399.2" cy="243.6" r="5.3" fill="#0087ff"/>
<circle cx="393.4" cy="244.2" r="5.3" fill="#00d7ff"/>
<circle cx="386.8" cy="246.6" r="5.3" fill="#00d7ff"/>
<circle cx="380.1" cy="249.1" r="5.3" fill="#00d7ff"/>
<circle cx="374.4" cy="249.5" r="5.3" fill="#0097ff"/>
<circle cx="368.7" cy="252" r="5.3" fill="#00b7ff"/>
<circle cx="361.4" cy="254.3" r="5.3" fill="#08fff7"/>
<circle cx="357.2" cy="255.6" r="5.3" fill="#0048ff"/>
<circle cx="349.2" cy="258.2" r="5.3" fill="#0087ff"/>
<circle cx="345.3" cy="259.7" r="5.3" fill="#00b7ff"/>
<circle cx="338.5" cy="261.2" r="5.3" fill="#00b7ff"/>
<circle cx="331" cy="262.7" r="5.3" fill="#00c7ff"/>
<circle cx="327.1" cy="265.2" r="5.3" fill="#08fff7"/>
<circle cx="320.1" cy="266.4" r="5.3" fill="#00a7ff"/>
<circle cx="313.2" cy="268.9" r="5.3" fill="#00c7ff"/>
<circle cx="307.9" cy="270.3" r="5.3" fill="#00a7ff"/>
<circle cx="302" cy="272.7" r="5.3" fill="#0078ff"/>
<circle cx="295.6" cy="272.9" r="5.3" fill="#00b7ff"/>
<circle cx="289.9" cy="276" r="5.3" fill="#00b7ff"/>
<circle cx="283.5" cy="277.6" r="5.3" fill="#00a7ff"/>
<circle cx="278.5" cy="278.3" r="5.3" fill="#00c7ff"/>
<circle cx="272.9" cy="280" r="5.3" fill="#0097ff"/>
<circle cx="266.4" cy="282.8" r="5.3" fill="#00b7ff"/>
<circle cx="260.7" cy="284.6" r="5.3" fill="#00b7ff"/>
<circle cx="254.3" cy="286.2" r="5.3" fill="#0097ff"/>
<circle cx="247.6" cy="288" r="5.3" fill="#00c7ff"/>
<circle cx="241.4" cy="290.5" r="5.3" fill="#0097ff"/>
<circle cx="235.5" cy="291.4" r="5.3" fill="#00a7ff"/>
<circle cx="228.6" cy="293.9" r="5.3" fill="#0097ff"/>
<circle cx="223.3" cy="294.3" r="5.3" fill="#00c7ff"/>
<circle cx="217.1" cy="297.2" r="5.3" fill="#00d7ff"/>
<circle cx="211.4" cy="298.8" r="5.3" fill="#00b7ff"/>
<circle cx="457.4" cy="229.6" r="5.3" fill="#08fff7"/>
<circle cx="450.3" cy="231.6" r="5.3" fill="#00d7ff"/>
<circle cx="445.2" cy="233.7" r="5.3" fill="#18ffe7"/>
<circle cx="439.4" cy="234.6" r="5.3" fill="#00f7ff"/>
<circle cx="432.4" cy="236" r="5.3" fill="#00d7ff"/>
<circle cx="427" cy="238.9" r="5.3" fill="#00c7ff"/>
<circle cx="422.1" cy="240.9" r="5.3" fill="#00f7ff"/>
<circle cx="414.9" cy="242.1" r="5.3" fill="#00c7ff"/>
<circle cx="408.3" cy="243.8" r="5.3" fill="#00c7ff"/>
<circle cx="403.9" cy="245.5" r="5.3" fill="#00f7ff"/>
<circle cx="397.6" cy="246.7" r="5.3" fill="#00f7ff"/>
<circle cx="390.3" cy="248.5" r="5.3" fill="#00e7ff"/>
<circle cx="384.7" cy="251.3" r="5.3" fill="#00f7ff"/>
<circle cx="379.5" cy="253.4" r="5.3" fill="#00c7ff"/>
<circle cx="374" cy="254.5" r="5.3" fill="#00a7ff"/>
<circle cx="366.1" cy="256.9" r="5.3" fill="#00c7ff"/>
<circle cx="360.9" cy="257.5" r="5.3" fill="#00b7ff"/>
<circle cx="354.9" cy="258.9" r="5.3" fill="#00d7ff"/>
<circle cx="348.3" cy="261.1" r="5.3" fill="#00b7ff"/>
<circle cx="342.2" cy="263" r="5.3" fill="#00d7ff"/>
<circle cx="337.4" cy="265.5" r="5.3" fill="#00b7ff"/>
<circle cx="329.7" cy="266.4" r="5.3" fill="#00d7ff"/>
<circle cx="324.9" cy="268.6" r="5.3" fill="#00c7ff"/>
<circle cx="318.3" cy="269.7" r="5.3" fill="#00d7ff"/>
<circle cx="311.8" cy="272.6" r="5.3" fill="#00d7ff"/>
<circle cx="305.7" cy="273.6" r="5.3" fill="#00a7ff"/>
<circle cx="301" cy="275.5" r="5.3" fill="#00e7ff"/>
<circle cx="293.6" cy="277.9" r="5.3" fill="#00c7ff"/>
<circle cx="289.5" cy="279" r="5.3" fill="#00c7ff"/>
<circle cx="282.5" cy="280.7" r="5.3" fill="#00e7ff"/>
<circle cx="275.9" cy="283.1" r="5.3" fill="#00d7ff"/>
<circle cx="271.3" cy="284.8" r="5.3" fill="#00a7ff"/>
<circle cx="264" cy="286" r="5.3" fill="#0078ff"/>
<circle cx="257.9" cy="289.1" r="5.3" fill="#0097ff"/>
<circle cx="253" cy="290.1" r="5.3" fill="#00b7ff"/>
<circle cx="245.5" cy="291.4" r="5.3" fill="#00d7ff"/>
<circle cx="240.4" cy="293.9" r="5.3" fill="#00b7ff"/>
<circle cx="233.9" cy="296.4" r="5.3" fill="#0097ff"/>
<circle cx="228.3" cy="297.9" r="5.3" fill="#00e7ff"/>
<circle cx="221.3" cy="299.9" r="5.3" fill="#00b7ff"/>
<circle cx="215.9" cy="301.1" r="5.3" fill="#00c7ff"/>
<circle cx="461.8" cy="231.5" r="5.3" fill="#18ffe7"/>
<circle cx="455.5" cy="232.9" r="5.3" fill="#08fff7"/>
<circle cx="449.5" cy="235" r="5.3" fill="#18ffe7"/>
<circle cx="443.5" cy="237.4" r="5.3" fill="#00d7ff"/>
<circle cx="437.9" cy="238.6" r="5.3" fill="#00d7ff"/>
<circle cx="431.3" cy="239.9" r="5.3" fill="#08fff7"/>
<circle cx="426.4" cy="242.5" r="5.3" fill="#38ffc7"/>
<circle cx="419.8" cy="243.5" r="5.3" fill="#00e7ff"/>
<circle cx="414.1" cy="246.3" r="5.3" fill="#18ffe7"/>
<circle cx="406.7" cy="246.9" r="5.3" fill="#28ffd7"/>
<circle cx="401.7" cy="250.1" r="5.3" fill="#28ffd7"/>
<circle cx="396.2" cy="251.2" r="5.3" fill="#38ffc7"/>
<circle cx="390.2" cy="253.5" r="5.3" fill="#00f7ff"/>
<circle cx="384.2" cy="254.7" r="5.3" fill="#00f7ff"/>
<circle cx="377.7" cy="257.3" r="5.3" fill="#28ffd7"/>
<circle cx="372.4" cy="258.9" r="5.3" fill="#0038ff"/>
<circle cx="365.1" cy="260.7" r="5.3" fill="#00b7ff"/>
<circle cx="359.8" cy="261.3" r="5.3" fill="#00f7ff"/>
<circle cx="353" cy="263.5" r="5.3" fill="#00e7ff"/>
<circle cx="348.1" cy="265.8" r="5.3" fill="#00c7ff"/>
<circle cx="341" cy="268.4" r="5.3" fill="#00b7ff"/>
<circle cx="334.4" cy="268.6" r="5.3" fill="#08fff7"/>
<circle cx="330.4" cy="271.7" r="5.3" fill="#00c7ff"/>
<circle cx="322.2" cy="272.5" r="5.3" fill="#00e7ff"/>
<circle cx="317.6" cy="274.8" r="5.3" fill="#08fff7"/>
<circle cx="311.6" cy="276.8" r="5.3" fill="#00c7ff"/>
<circle cx="304.2" cy="278.2" r="5.3" fill="#00c7ff"/>
<circle cx="300" cy="280.7" r="5.3" fill="#00d7ff"/>
<circle cx="292.6" cy="282.3" r="5.3" fill="#00f7ff"/>
<circle cx="286.8" cy="283.3" r="5.3" fill="#0078ff"/>
<circle cx="280.7" cy="286.1" r="5.3" fill="#00d7ff"/>
<circle cx="276.1" cy="287.4" r="5.3" fill="#00d7ff"/>
<circle cx="269.5" cy="289.9" r="5.3" fill="#00e7ff"/>
<circle cx="264.1" cy="290.8" r="5.3" fill="#00e7ff"/>
<circle cx="258" cy="292.1" r="5.3" fill="#58ffa7"/>
<circle cx="251.9" cy="295.2" r="5.3" fill="#00b7ff"/>
<circle cx="243.9" cy="296" r="5.3" fill="#00e7ff"/>
<circle cx="239.1" cy="297.5" r="5.3" fill="#00e7ff"/>
<circle cx="233.8" cy="299" r="5.3" fill="#00c7ff"/>
<circle cx="225.9" cy="302.4" r="5.3" fill="#00c7ff"/>
<circle cx="221.1" cy="303.5" r="5.3" fill="#00e7ff"/>
<circle cx="466.8" cy="234.2" r="5.3" fill="#28ffd7"/>
<circle cx="460.6" cy="236.5" r="5.3" fill="#18ffe7"/>
<circle cx="454.6" cy="237.8" r="5.3" fill="#f7ff08"/>
<circle cx="447.7" cy="239.3" r="5.3" fill="#78ff87"/>
<circle cx="441.5" cy="241.6" r="5.3" fill="#0087ff"/>
<circle cx="437.2" cy="243.7" r="5.3" fill="#48ffb7"/>
<circle cx="430.6" cy="244.5" r="5.3" fill="#38ffc7"/>
<circle cx="424.5" cy="247.4" r="5.3" fill="#68ff97"/>
<circle cx="417.4" cy="247.9" r="5.3" fill="#48ffb7"/>
<circle cx="411.9" cy="250.1" r="5.3" fill="#00d7ff"/>
<circle cx="405.9" cy="252.5" r="5.3" fill="#68ff97"/>
<circle cx="400.1" cy="254.5" r="5.3" fill="#48ffb7"/>
<circle cx="393.9" cy="254.9" r="5.3" fill="#68ff97"/>
<circle cx="388.1" cy="257.6" r="5.3" fill="#00f7ff"/>
<circle cx="382.1" cy="259.2" r="5.3" fill="#08fff7"/>
<circle cx="375.7" cy="260.4" r="5.3" fill="#78ff87"/>
<circle cx="370.5" cy="263.6" r="5.3" fill="#00e7ff"/>
<circle cx="364.4" cy="265.1" r="5.3" fill="#00c7ff"/>
<circle cx="357.1" cy="265.9" r="5.3" fill="#08fff7"/>
<circle cx="352.9" cy="268.4" r="5.3" fill="#00b7ff"/>
<circle cx="345.8" cy="269" r="5.3" fill="#00f7ff"/>
<circle cx="340.7" cy="271.5" r="5.3" fill="#00b7ff"/>
<circle cx="334" cy="273" r="5.3" fill="#08fff7"/>
<circle cx="327.5" cy="275.9" r="5.3" fill="#00e7ff"/>
<circle cx="322.1" cy="277.6" r="5.3" fill="#00e7ff"/>
<circle cx="315.9" cy="278.6" r="5.3" fill="#28ffd7"/>
<circle cx="310.7" cy="281" r="5.3" fill="#0097ff"/>
<circle cx="304.5" cy="282.7" r="5.3" fill="#00f7ff"/>
<circle cx="298.7" cy="284.2" r="5.3" fill="#00e7ff"/>
<circle cx="290.8" cy="286.8" r="5.3" fill="#18ffe7"/>
<circle cx="285.5" cy="287" r="5.3" fill="#0097ff"/>
<circle cx="280.3" cy="288.8" r="5.3" fill="#00e7ff"/>
<circle cx="274.4" cy="291.3" r="5.3" fill="#08fff7"/>
<circle cx="267.2" cy="292.2" r="5.3" fill="#00f7ff"/>
<circle cx="262.3" cy="295" r="5.3" fill="#08fff7"/>
<circle cx="256.6" cy="295.9" r="5.3" fill="#28ffd7"/>
<circle cx="249.2" cy="299.4" r="5.3" fill="#00e7ff"/>
<circle cx="244.6" cy="300.3" r="5.3" fill="#08fff7"/>
<circle cx="237.1" cy="301.9" r="5.3" fill="#00d7ff"/>
<circle cx="231" cy="304.5" r="5.3" fill="#00e7ff"/>
<circle cx="225.5" cy="305.4" r="5.3" fill="#00e7ff"/>
<circle cx="470.8" cy="236.5" r="5.3" fill="#97ff68"/>
<circle cx="465.6" cy="238.8" r="5.3" fill="#68ff97"/>
<circle cx="458.9" cy="239.5" r="5.3" fill="#58ffa7"/>
<circle cx="454" cy="241.2" r="5.3" fill="#a7ff58"/>
<circle cx="446.6" cy="243.6" r="5.3" fill="#68ff97"/>
<circle cx="441.3" cy="245.5" r="5.3" fill="#08fff7"/>
<circle cx="436" cy="247.6" r="5.3" fill="#00b7ff"/>
<circle cx="429.3" cy="248.2" r="5.3" fill="#78ff87"/>
<circle cx="422.4" cy="250.5" r="5.3" fill="#00d7ff"/>
<circle cx="416.3" cy="252.2" r="5.3" fill="#68ff97"/>
<circle cx="409.8" cy="254.9" r="5.3" fill="#48ffb7"/>
<circle cx="404.2" cy="256.8" r="5.3" fill="#00b7ff"/>
<circle cx="399.7" cy="257.2" r="5.3" fill="#38ffc7"/>
<circle cx="392.4" cy="259.9" r="5.3" fill="#18ffe7"/>
<circle cx="386.5" cy="260.7" r="5.3" fill="#28ffd7"/>
<circle cx="381.6" cy="262.5" r="5.3" fill="#87ff78"/>
<circle cx="374" cy="265.7" r="5.3" fill="#28ffd7"/>
<circle cx="369.6" cy="266.4" r="5.3" fill="#38ffc7"/>
<circle cx="362.4" cy="267.9" r="5.3" fill="#00e7ff"/>
<circle cx="356.1" cy="270.6" r="5.3" fill="#18ffe7"/>
<circle cx="351.1" cy="271.7" r="5.3" fill="#00e7ff"/>
<circle cx="343.8" cy="273.2" r="5.3" fill="#00e7ff"/>
<circle cx="337.6" cy="275.2" r="5.3" fill="#00d7ff"/>
<circle cx="331.6" cy="277.7" r="5.3" fill="#48ffb7"/>
<circle cx="325.9" cy="279.5" r="5.3" fill="#00f7ff"/>
<circle cx="320.2" cy="281" r="5.3" fill="#00e7ff"/>
<circle cx="315" cy="283" r="5.3" fill="#00c7ff"/>
<circle cx="309.4" cy="285.2" r="5.3" fill="#08fff7"/>
<circle cx="301.8" cy="287" r="5.3" fill="#28ffd7"/>
<circle cx="296.2" cy="288.7" r="5.3" fill="#28ffd7"/>
<circle cx="291" cy="289.6" r="5.3" fill="#00f7ff"/>
<circle cx="284.2" cy="291.6" r="5.3" fill="#00f7ff"/>
<circle cx="277.8" cy="292.9" r="5.3" fill="#38ffc7"/>
<circle cx="272.1" cy="295.2" r="5.3" fill="#00f7ff"/>
<circle cx="265.4" cy="296.4" r="5.3" fill="#00d7ff"/>
<circle cx="259.8" cy="298.7" r="5.3" fill="#00a7ff"/>
<circle cx="253.1" cy="300.2" r="5.3" fill="#00f7ff"/>
<circle cx="247.9" cy="303.4" r="5.3" fill="#08fff7"/>
<circle cx="242.4" cy="304.6" r="5.3" fill="#00d7ff"/>
<circle cx="237.1" cy="306.2" r="5.3" fill="#08fff7"/>
<circle cx="230" cy="308.1" r="5.3" fill="#00f7ff"/>
<circle cx="475.6" cy="238.9" r="5.3" fill="#97ff68"/>
<circle cx="470.8" cy="239.8" r="5.3" fill="#b7ff48"/>
<circle cx="463.5" cy="242.8" r="5.3" fill="#c7ff38"/>
<circle cx="458.5" cy="243.8" r="5.3" fill="#87ff78"/>
<circle cx="451.6" cy="245.4" r="5.3" fill="#b7ff48"/>
<circle cx="444.9" cy="248.3" r="5.3" fill="#b7ff48"/>
<circle cx="439.5" cy="249.4" r="5.3" fill="#48ffb7"/>
<circle cx="434" cy="251.3" r="5.3" fill="#b7ff48"/>
<circle cx="427.7" cy="252.2" r="5.3" fill="#48ffb7"/>
<circle cx="420.7" cy="254.8" r="5.3" fill="#a7ff58"/>
<circle cx="414.7" cy="257" r="5.3" fill="#68ff97"/>
<circle cx="410.4" cy="259.2" r="5.3" fill="#68ff97"/>
<circle cx="403.3" cy="259.8" r="5.3" fill="#87ff78"/>
<circle cx="397.4" cy="262.8" r="5.3" fill="#68ff97"/>
<circle cx="391.3" cy="263.8" r="5.3" fill="#87ff78"/>
<circle cx="386.4" cy="264.7" r="5.3" fill="#58ffa7"/>
<circle cx="379.1" cy="268.1" r="5.3" fill="#38ffc7"/>
<circle cx="372.3" cy="268.4" r="5.3" fill="#58ffa7"/>
<circle cx="366.9" cy="271.3" r="5.3" fill="#58ffa7"/>
<circle cx="360.3" cy="272.9" r="5.3" fill="#58ffa7"/>
<circle cx="355.6" cy="273.8" r="5.3" fill="#00f7ff"/>
<circle cx="349.5" cy="277.1" r="5.3" fill="#28ffd7"/>
<circle cx="343.8" cy="278.6" r="5.3" fill="#68ff97"/>
<circle cx="336.3" cy="279.4" r="5.3" fill="#00a7ff"/>
<circle cx="331.9" cy="280.8" r="5.3" fill="#48ffb7"/>
<circle cx="324.5" cy="284.1" r="5.3" fill="#87ff78"/>
<circle cx="319.2" cy="285.4" r="5.3" fill="#58ffa7"/>
<circle cx="313.6" cy="287.1" r="5.3" fill="#58ffa7"/>
<circle cx="306.1" cy="288.1" r="5.3" fill="#48ffb7"/>
<circle cx="300.6" cy="291.5" r="5.3" fill="#38ffc7"/>
<circle cx="295.7" cy="292.2" r="5.3" fill="#08fff7"/>
<circle cx="289.2" cy="293.6" r="5.3" fill="#00f7ff"/>
<circle cx="283.3" cy="295.1" r="5.3" fill="#08fff7"/>
<circle cx="277.5" cy="297.7" r="5.3" fill="#00f7ff"/>
<circle cx="270.8" cy="299.6" r="5.3" fill="#08fff7"/>
<circle cx="264.5" cy="300.9" r="5.3" fill="#28ffd7"/>
<circle cx="258.2" cy="302.4" r="5.3" fill="#38ffc7"/>
<circle cx="253.1" cy="304.6" r="5.3" fill="#08fff7"/>
<circle cx="246.4" cy="307.2" r="5.3" fill="#00d7ff"/>
<circle cx="240.1" cy="308.1" r="5.3" fill="#00f7ff"/>
<circle cx="234.9" cy="310.3" r="5.3" fill="#48ffb7"/>
<circle cx="480.2" cy="241" r="5.3" fill="#ffe700"/>
<circle cx="474" cy="242.3" r="5.3" fill="#28ffd7"/>
<circle cx="469.2" cy="245.1" r="5.3" fill="#ff8700"/>
<circle cx="462.5" cy="246.7" r="5.3" fill="#e7ff18"/>
<circle cx="457" cy="248.4" r="5.3" fill="#c7ff38"/>
<circle cx="450.3" cy="249.4" r="5.3" fill="#e7ff18"/>
<circle cx="444.5" cy="252.3" r="5.3" fill="#97ff68"/>
<circle cx="437.8" cy="252.9" r="5.3" fill="#f7ff08"/>
<circle cx="431.2" cy="255.5" r="5.3" fill="#18ffe7"/>
<circle cx="425.2" cy="257.3" r="5.3" fill="#f7ff08"/>
<circle cx="420" cy="258.1" r="5.3" fill="#d7ff28"/>
<circle cx="414.6" cy="260" r="5.3" fill="#78ff87"/>
<circle cx="408" cy="261.8" r="5.3" fill="#c7ff38"/>
<circle cx="402.1" cy="265" r="5.3" fill="#87ff78"/>
<circle cx="396.4" cy="266" r="5.3" fill="#58ffa7"/>
<circle cx="389.4" cy="267.3" r="5.3" fill="#78ff87"/>
<circle cx="383.4" cy="270.5" r="5.3" fill="#38ffc7"/>
<circle cx="377" cy="271.5" r="5.3" fill="#68ff97"/>
<circle cx="372.3" cy="273.5" r="5.3" fill="#97ff68"/>
<circle cx="365.1" cy="275.4" r="5.3" fill="#18ffe7"/>
<circle cx="360" cy="276.9" r="5.3" fill="#68ff97"/>
<circle cx="353.9" cy="277.8" r="5.3" fill="#38ffc7"/>
<circle cx="348.7" cy="280.7" r="5.3" fill="#48ffb7"/>
<circle cx="342.4" cy="282.5" r="5.3" fill="#78ff87"/>
<circle cx="336.4" cy="284.1" r="5.3" fill="#18ffe7"/>
<circle cx="329.5" cy="285.5" r="5.3" fill="#48ffb7"/>
<circle cx="323.6" cy="287.7" r="5.3" fill="#97ff68"/>
<circle cx="318" cy="289.4" r="5.3" fill="#58ffa7"/>
<circle cx="312" cy="290.9" r="5.3" fill="#38ffc7"/>
<circle cx="305.1" cy="293" r="5.3" fill="#97ff68"/>
<circle cx="299.5" cy="295.6" r="5.3" fill="#68ff97"/>
<circle cx="294.5" cy="295.7" r="5.3" fill="#48ffb7"/>
<circle cx="288.5" cy="298.6" r="5.3" fill="#68ff97"/>
<circle cx="281.5" cy="300.8" r="5.3" fill="#28ffd7"/>
<circle cx="276" cy="302.2" r="5.3" fill="#00b7ff"/>
<circle cx="270.3" cy="303.4" r="5.3" fill="#38ffc7"/>
<circle cx="263.7" cy="304.7" r="5.3" fill="#00c7ff"/>
<circle cx="257.9" cy="308.1" r="5.3" fill="#00f7ff"/>
<circle cx="251.8" cy="309.2" r="5.3" fill="#48ffb7"/>
<circle cx="245.7" cy="310.3" r="5.3" fill="#48ffb7"/>
<circle cx="239.4" cy="312.5" r="5.3" fill="#28ffd7"/>
<circle cx="484.9" cy="243.2" r="5.3" fill="#ffd700"/>
<circle cx="479.7" cy="245.2" r="5.3" fill="#ffb700"/>
<circle cx="473.9" cy="246.6" r="5.3" fill="#e7ff18"/>
<circle cx="466.1" cy="248.8" r="5.3" fill="#d7ff28"/>
<circle cx="461.8" cy="249.9" r="5.3" fill="#ffe700"/>
<circle cx="454.1" cy="251.9" r="5.3" fill="#fff700"/>
<circle cx="448.6" cy="253.9" r="5.3" fill="#a7ff58"/>
<circle cx="442.1" cy="255.2" r="5.3" fill="#c7ff38"/>
<circle cx="435.7" cy="258" r="5.3" fill="#b7ff48"/>
<circle cx="430.6" cy="259.2" r="5.3" fill="#97ff68"/>
<circle cx="424.5" cy="261.7" r="5.3" fill="#a7ff58"/>
<circle cx="419.2" cy="263.3" r="5.3" fill="#c7ff38"/>
<circle cx="411.9" cy="264.3" r="5.3" fill="#a7ff58"/>
<circle cx="407.5" cy="266.2" r="5.3" fill="#d7ff28"/>
<circle cx="401" cy="268.6" r="5.3" fill="#b7ff48"/>
<circle cx="394.4" cy="270.4" r="5.3" fill="#a7ff58"/>
<circle cx="388.2" cy="272.8" r="5.3" fill="#78ff87"/>
<circle cx="383.1" cy="274.5" r="5.3" fill="#68ff97"/>
<circle cx="375.9" cy="275.1" r="5.3" fill="#78ff87"/>
<circle cx="371.5" cy="278.2" r="5.3" fill="#c7ff38"/>
<circle cx="363.4" cy="278.5" r="5.3" fill="#c7ff38"/>
<circle cx="358.7" cy="280.9" r="5.3" fill="#d7ff28"/>
<circle cx="351.9" cy="282.1" r="5.3" fill="#68ff97"/>
<circle cx="345.9" cy="284.7" r="5.3" fill="#a7ff58"/>
<circle cx="340.6" cy="286.4" r="5.3" fill="#78ff87"/>
<circle cx="334.3" cy="288.7" r="5.3" fill="#78ff87"/>
<circle cx="328.9" cy="289.4" r="5.3" fill="#87ff78"/>
<circle cx="322.7" cy="291.7" r="5.3" fill="#78ff87"/>
<circle cx="316" cy="293.6" r="5.3" fill="#a7ff58"/>
<circle cx="311" cy="295.4" r="5.3" fill="#48ffb7"/>
<circle cx="305.1" cy="297.7" r="5.3" fill="#68ff97"/>
<circle cx="297.5" cy="298" r="5.3" fill="#48ffb7"/>
<circle cx="291" cy="299.8" r="5.3" fill="#68ff97"/>
<circle cx="287.1" cy="302.7" r="5.3" fill="#87ff78"/>
<circle cx="280" cy="304.9" r="5.3" fill="#58ffa7"/>
<circle cx="273.4" cy="305.9" r="5.3" fill="#b7ff48"/>
<circle cx="268.4" cy="307.2" r="5.3" fill="#87ff78"/>
<circle cx="262.9" cy="309.2" r="5.3" fill="#38ffc7"/>
<circle cx="256.6" cy="311.9" r="5.3" fill="#38ffc7"/>
<circle cx="250.9" cy="314" r="5.3" fill="#38ffc7"/>
<circle cx="244.1" cy="315.1" r="5.3" fill="#28ffd7"/>
<circle cx="489.7" cy="245.7" r="5.3" fill="#870000"/>
<circle cx="483.5" cy="246.8" r="5.3" fill="#48ffb7"/>
<circle cx="476.9" cy="248.6" r="5.3" fill="#ff7800"/>
<circle cx="471.7" cy="251.2" r="5.3" fill="#ffd700"/>
<circle cx="465.4" cy="252.7" r="5.3" fill="#ff9700"/>
<circle cx="460.4" cy="255.1" r="5.3" fill="#fff700"/>
<circle cx="452.5" cy="256.5" r="5.3" fill="#d7ff28"/>
<circle cx="447.9" cy="258.8" r="5.3" fill="#ffa700"/>
<circle cx="441" cy="260.1" r="5.3" fill="#87ff78"/>
<circle cx="436.1" cy="261.6" r="5.3" fill="#ff3800"/>
<circle cx="429.8" cy="263.4" r="5.3" fill="#c7ff38"/>
<circle cx="424.3" cy="265" r="5.3" fill="#00e7ff"/>
<circle cx="416.3" cy="266.7" r="5.3" fill="#48ffb7"/>
<circle cx="410.2" cy="268.6" r="5.3" fill="#ffe700"/>
<circle cx="406.1" cy="270.7" r="5.3" fill="#a7ff58"/>
<circle cx="399.2" cy="272.8" r="5.3" fill="#d7ff28"/>
<circle cx="393.7" cy="274.6" r="5.3" fill="#f7ff08"/>
<circle cx="386.4" cy="276.5" r="5.3" fill="#f7ff08"/>
<circle cx="380.6" cy="277.9" r="5.3" fill="#c7ff38"/>
<circle cx="375.6" cy="279.3" r="5.3" fill="#e7ff18"/>
<circle cx="369.1" cy="281.8" r="5.3" fill="#87ff78"/>
<circle cx="362.6" cy="283.9" r="5.3" fill="#e7ff18"/>
<circle cx="356" cy="285.9" r="5.3" fill="#e7ff18"/>
<circle cx="350.2" cy="287.3" r="5.3" fill="#b7ff48"/>
<circle cx="344" cy="288.6" r="5.3" fill="#c7ff38"/>
<circle cx="339.9" cy="291.1" r="5.3" fill="#78ff87"/>
<circle cx="333" cy="292.3" r="5.3" fill="#e7ff18"/>
<circle cx="326.2" cy="294.3" r="5.3" fill="#b7ff48"/>
<circle cx="321.5" cy="295.1" r="5.3" fill="#87ff78"/>
<circle cx="314.2" cy="298" r="5.3" fill="#b7ff48"/>
<circle cx="308" cy="299.1" r="5.3" fill="#58ffa7"/>
<circle cx="302.8" cy="301.6" r="5.3" fill="#97ff68"/>
<circle cx="297.3" cy="302.2" r="5.3" fill="#87ff78"/>
<circle cx="290.2" cy="304.3" r="5.3" fill="#78ff87"/>
<circle cx="285.5" cy="307" r="5.3" fill="#a7ff58"/>
<circle cx="279.6" cy="308.6" r="5.3" fill="#00d7ff"/>
<circle cx="273" cy="309.8" r="5.3" fill="#b7ff48"/>
<circle cx="267.3" cy="312.6" r="5.3" fill="#b7ff48"/>
<circle cx="261.4" cy="313" r="5.3" fill="#68ff97"/>
<circle cx="254.9" cy="315.5" r="5.3" fill="#87ff78"/>
<circle cx="248.8" cy="317.4" r="5.3" fill="#a7ff58"/>
<circle cx="494.2" cy="248.1" r="5.3" fill="#ff8700"/>
<circle cx="488.4" cy="249.9" r="5.3" fill="#ffa700"/>
<circle cx="482.3" cy="251.4" r="5.3" fill="#e70000"/>
<circle cx="476.1" cy="253.2" r="5.3" fill="#a7ff58"/>
<circle cx="470.3" cy="255.4" r="5.3" fill="#ffc700"/>
<circle cx="464" cy="257" r="5.3" fill="#ff8700"/>
<circle cx="457.8" cy="258.5" r="5.3" fill="#ff9700"/>
<circle cx="451.8" cy="260.8" r="5.3" fill="#ff8700"/>
<circle cx="445.9" cy="262.4" r="5.3" fill="#f7ff08"/>
<circle cx="440" cy="264.3" r="5.3" fill="#ff9700"/>
<circle cx="434.1" cy="266" r="5.3" fill="#e7ff18"/>
<circle cx="427.6" cy="267.5" r="5.3" fill="#ffe700"/>
<circle cx="421.6" cy="269.7" r="5.3" fill="#c7ff38"/>
<circle cx="416.2" cy="271.4" r="5.3" fill="#f7ff08"/>
<circle cx="410.1" cy="273" r="5.3" fill="#78ff87"/>
<circle cx="404" cy="275" r="5.3" fill="#b7ff48"/>
<circle cx="397.8" cy="276.9" r="5.3" fill="#ff9700"/>
<circle cx="391.9" cy="278.6" r="5.3" fill="#ffd700"/>
<circle cx="385.8" cy="280.2" r="5.3" fill="#ffd700"/>
<circle cx="379.9" cy="281.9" r="5.3" fill="#a7ff58"/>
<circle cx="373.9" cy="284.1" r="5.3" fill="#e7ff18"/>
<circle cx="367.9" cy="285.9" r="5.3" fill="#fff700"/>
<circle cx="361.4" cy="287.4" r="5.3" fill="#ffe700"/>
<circle cx="355.7" cy="289" r="5.3" fill="#fff700"/>
<circle cx="349.3" cy="290.8" r="5.3" fill="#f7ff08"/>
<circle cx="343.7" cy="293" r="5.3" fill="#f7ff08"/>
<circle cx="337.2" cy="294.3" r="5.3" fill="#b7ff48"/>
<circle cx="331.6" cy="296.1" r="5.3" fill="#e7ff18"/>
<circle cx="325.5" cy="298.3" r="5.3" fill="#fff700"/>
<circle cx="319.6" cy="300" r="5.3" fill="#d7ff28"/>
<circle cx="313.6" cy="301.9" r="5.3" fill="#a7ff58"/>
<circle cx="307.5" cy="303.6" r="5.3" fill="#78ff87"/>
<circle cx="301" cy="305.3" r="5.3" fill="#b7ff48"/>
<circle cx="295.3" cy="307.2" r="5.3" fill="#f7ff08"/>
<circle cx="289.4" cy="309.1" r="5.3" fill="#87ff78"/>
<circle cx="283" cy="310.6" r="5.3" fill="#58ffa7"/>
<circle cx="277.1" cy="312.8" r="5.3" fill="#a7ff58"/>
<circle cx="271.5" cy="314.1" r="5.3" fill="#a7ff58"/>
<circle cx="265.4" cy="316.2" r="5.3" fill="#48ffb7"/>
<circle cx="259.1" cy="317.8" r="5.3" fill="#87ff78"/>
<circle cx="253.4" cy="319.8" r="5.3" fill="#48ffb7"/>
</g>
<path d="M68.6 122.7L68.6 327.8L253.1 421.2L494.2 349.6M68.6 327.8l-6.2 -3.2M68.6 276.5l-6.2 -3.2M68.6 174l-6.2 -3.2M68.6 122.7l-6.2 -3.2M68.6 327.8l-6.7 2M114.7 351.2l-6.7 2M160.8 374.5l-6.7 2M207 397.9l-6.7 2M253.1 421.2l-6.7 2M253.1 421.2l6.2 3.2M313.4 403.3l6.2 3.2M373.6 385.4l6.2 3.2M433.9 367.5l6.2 3.2M494.2 349.6l6.2 3.2" fill="none" stroke="#111" stroke-width="1.2" stroke-linejoin="miter"/>
<text transform="translate(58.3 329.2) scale(0.965 1.12)" font-size="14.1" font-family="Liberation Sans, sans-serif" text-anchor="end" fill="#151515" text-rendering="geometricPrecision" >790</text>
<text transform="translate(58.3 277.9) scale(0.965 1.12)" font-size="14.1" font-family="Liberation Sans, sans-serif" text-anchor="end" fill="#151515" text-rendering="geometricPrecision" >795</text>
<text transform="translate(58.3 226.7) scale(0.965 1.12)" font-size="14.1" font-family="Liberation Sans, sans-serif" text-anchor="end" fill="#151515" text-rendering="geometricPrecision" >800</text>
<text transform="translate(58.3 175.4) scale(0.965 1.12)" font-size="14.1" font-family="Liberation Sans, sans-serif" text-anchor="end" fill="#151515" text-rendering="geometricPrecision" >805</text>
<text transform="translate(58.3 124.1) scale(0.965 1.12)" font-size="14.1" font-family="Liberation Sans, sans-serif" text-anchor="end" fill="#151515" text-rendering="geometricPrecision" >810</text>
<text transform="translate(57.4 345.2) scale(0.965 1.12)" font-size="14.1" font-family="Liberation Sans, sans-serif" text-anchor="end" fill="#151515" text-rendering="geometricPrecision" >100</text>
<text transform="translate(103.5 368.6) scale(0.965 1.12)" font-size="14.1" font-family="Liberation Sans, sans-serif" text-anchor="end" fill="#151515" text-rendering="geometricPrecision" >50</text>
<text transform="translate(149.7 391.9) scale(0.965 1.12)" font-size="14.1" font-family="Liberation Sans, sans-serif" text-anchor="end" fill="#151515" text-rendering="geometricPrecision" >0</text>
<text transform="translate(195.8 415.2) scale(0.965 1.12)" font-size="14.1" font-family="Liberation Sans, sans-serif" text-anchor="end" fill="#151515" text-rendering="geometricPrecision" >-50</text>
<text transform="translate(241.9 438.6) scale(0.965 1.12)" font-size="14.1" font-family="Liberation Sans, sans-serif" text-anchor="end" fill="#151515" text-rendering="geometricPrecision" >-100</text>
<text transform="translate(261.9 440.1) scale(0.965 1.12)" font-size="14.1" font-family="Liberation Sans, sans-serif" text-anchor="start" fill="#151515" text-rendering="geometricPrecision" >-100</text>
<text transform="translate(322.2 422.2) scale(0.965 1.12)" font-size="14.1" font-family="Liberation Sans, sans-serif" text-anchor="start" fill="#151515" text-rendering="geometricPrecision" >-50</text>
<text transform="translate(382.4 404.3) scale(0.965 1.12)" font-size="14.1" font-family="Liberation Sans, sans-serif" text-anchor="start" fill="#151515" text-rendering="geometricPrecision" >0</text>
<text transform="translate(442.7 386.4) scale(0.965 1.12)" font-size="14.1" font-family="Liberation Sans, sans-serif" text-anchor="start" fill="#151515" text-rendering="geometricPrecision" >50</text>
<text transform="translate(503 368.5) scale(0.965 1.12)" font-size="14.1" font-family="Liberation Sans, sans-serif" text-anchor="start" fill="#151515" text-rendering="geometricPrecision" >100</text>
<text x="10.3" y="221.5" font-size="26" font-family="Liberation Serif, serif" text-anchor="start" fill="#111" font-style="italic">Z</text>
<text x="112.5" y="414" font-size="25.5" font-family="Liberation Serif, serif" text-anchor="start" fill="#111" font-style="italic">X</text>
<text x="400.5" y="427.2" font-size="26" font-family="Liberation Serif, serif" text-anchor="start" fill="#111" font-style="italic">Y</text>
<text x="299.8" y="28.3" font-size="25.65" font-family="Liberation Serif, serif" text-anchor="middle" fill="#111" >Comprehensive evaluation index</text>
<text x="428.6" y="75.4" font-size="22.1" font-family="Liberation Serif, serif" text-anchor="start" fill="#111" >Unit: mm</text>
<rect x="537" y="417.17" width="29" height="5.83" fill="#0000c6" shape-rendering="crispEdges"/>
<rect x="537" y="411.34" width="29" height="6.83" fill="#0000cd" shape-rendering="crispEdges"/>
<rect x="537" y="405.52" width="29" height="6.83" fill="#0000d5" shape-rendering="crispEdges"/>
<rect x="537" y="399.69" width="29" height="6.83" fill="#0000dd" shape-rendering="crispEdges"/>
<rect x="537" y="393.86" width="29" height="6.83" fill="#0000e4" shape-rendering="crispEdges"/>
<rect x="537" y="388.03" width="29" height="6.83" fill="#0000ec" shape-rendering="crispEdges"/>
<rect x="537" y="382.20" width="29" height="6.83" fill="#0000f4" shape-rendering="crispEdges"/>
<rect x="537" y="376.38" width="29" height="6.83" fill="#0000fb" shape-rendering="crispEdges"/>
<rect x="537" y="370.55" width="29" height="6.83" fill="#0008ff" shape-rendering="crispEdges"/>
<rect x="537" y="364.72" width="29" height="6.83" fill="#0018ff" shape-rendering="crispEdges"/>
<rect x="537" y="358.89" width="29" height="6.83" fill="#0028ff" shape-rendering="crispEdges"/>
<rect x="537" y="353.06" width="29" height="6.83" fill="#0038ff" shape-rendering="crispEdges"/>
<rect x="537" y="347.23" width="29" height="6.83" fill="#0048ff" shape-rendering="crispEdges"/>
<rect x="537" y="341.41" width="29" height="6.83" fill="#0058ff" shape-rendering="crispEdges"/>
<rect x="537" y="335.58" width="29" height="6.83" fill="#0068ff" shape-rendering="crispEdges"/>
<rect x="537" y="329.75" width="29" height="6.83" fill="#0078ff" shape-rendering="crispEdges"/>
<rect x="537" y="323.92" width="29" height="6.83" fill="#0087ff" shape-rendering="crispEdges"/>
<rect x="537" y="318.09" width="29" height="6.83" fill="#0097ff" shape-rendering="crispEdges"/>
<rect x="537" y="312.27" width="29" height="6.83" fill="#00a7ff" shape-rendering="crispEdges"/>
<rect x="537" y="306.44" width="29" height="6.83" fill="#00b7ff" shape-rendering="crispEdges"/>
<rect x="537" y="300.61" width="29" height="6.83" fill="#00c7ff" shape-rendering="crispEdges"/>
<rect x="537" y="294.78" width="29" height="6.83" fill="#00d7ff" shape-rendering="crispEdges"/>
<rect x="537" y="288.95" width="29" height="6.83" fill="#00e7ff" shape-rendering="crispEdges"/>
<rect x="537" y="283.12" width="29" height="6.83" fill="#00f7ff" shape-rendering="crispEdges"/>
<rect x="537" y="277.30" width="29" height="6.83" fill="#08fff7" shape-rendering="crispEdges"/>
<rect x="537" y="271.47" width="29" height="6.83" fill="#18ffe7" shape-rendering="crispEdges"/>
<rect x="537" y="265.64" width="29" height="6.83" fill="#28ffd7" shape-rendering="crispEdges"/>
<rect x="537" y="259.81" width="29" height="6.83" fill="#38ffc7" shape-rendering="crispEdges"/>
<rect x="537" y="253.98" width="29" height="6.83" fill="#48ffb7" shape-rendering="crispEdges"/>
<rect x="537" y="248.16" width="29" height="6.83" fill="#58ffa7" shape-rendering="crispEdges"/>
<rect x="537" y="242.33" width="29" height="6.83" fill="#68ff97" shape-rendering="crispEdges"/>
<rect x="537" y="236.50" width="29" height="6.83" fill="#78ff87" shape-rendering="crispEdges"/>
<rect x="537" y="230.67" width="29" height="6.83" fill="#87ff78" shape-rendering="crispEdges"/>
<rect x="537" y="224.84" width="29" height="6.83" fill="#97ff68" shape-rendering="crispEdges"/>
<rect x="537" y="219.02" width="29" height="6.83" fill="#a7ff58" shape-rendering="crispEdges"/>
<rect x="537" y="213.19" width="29" height="6.83" fill="#b7ff48" shape-rendering="crispEdges"/>
<rect x="537" y="207.36" width="29" height="6.83" fill="#c7ff38" shape-rendering="crispEdges"/>
<rect x="537" y="201.53" width="29" height="6.83" fill="#d7ff28" shape-rendering="crispEdges"/>
<rect x="537" y="195.70" width="29" height="6.83" fill="#e7ff18" shape-rendering="crispEdges"/>
<rect x="537" y="189.88" width="29" height="6.83" fill="#f7ff08" shape-rendering="crispEdges"/>
<rect x="537" y="184.05" width="29" height="6.83" fill="#fff700" shape-rendering="crispEdges"/>
<rect x="537" y="178.22" width="29" height="6.83" fill="#ffe700" shape-rendering="crispEdges"/>
<rect x="537" y="172.39" width="29" height="6.83" fill="#ffd700" shape-rendering="crispEdges"/>
<rect x="537" y="166.56" width="29" height="6.83" fill="#ffc700" shape-rendering="crispEdges"/>
<rect x="537" y="160.73" width="29" height="6.83" fill="#ffb700" shape-rendering="crispEdges"/>
<rect x="537" y="154.91" width="29" height="6.83" fill="#ffa700" shape-rendering="crispEdges"/>
<rect x="537" y="149.08" width="29" height="6.83" fill="#ff9700" shape-rendering="crispEdges"/>
<rect x="537" y="143.25" width="29" height="6.83" fill="#ff8700" shape-rendering="crispEdges"/>
<rect x="537" y="137.42" width="29" height="6.83" fill="#ff7800" shape-rendering="crispEdges"/>
<rect x="537" y="131.59" width="29" height="6.83" fill="#ff6800" shape-rendering="crispEdges"/>
<rect x="537" y="125.77" width="29" height="6.83" fill="#ff5800" shape-rendering="crispEdges"/>
<rect x="537" y="119.94" width="29" height="6.83" fill="#ff4800" shape-rendering="crispEdges"/>
<rect x="537" y="114.11" width="29" height="6.83" fill="#ff3800" shape-rendering="crispEdges"/>
<rect x="537" y="108.28" width="29" height="6.83" fill="#ff2800" shape-rendering="crispEdges"/>
<rect x="537" y="102.45" width="29" height="6.83" fill="#ff1800" shape-rendering="crispEdges"/>
<rect x="537" y="96.62" width="29" height="6.83" fill="#ff0800" shape-rendering="crispEdges"/>
<rect x="537" y="90.80" width="29" height="6.83" fill="#f70000" shape-rendering="crispEdges"/>
<rect x="537" y="84.97" width="29" height="6.83" fill="#e70000" shape-rendering="crispEdges"/>
<rect x="537" y="79.14" width="29" height="6.83" fill="#d70000" shape-rendering="crispEdges"/>
<rect x="537" y="73.31" width="29" height="6.83" fill="#c70000" shape-rendering="crispEdges"/>
<rect x="537" y="67.48" width="29" height="6.83" fill="#b70000" shape-rendering="crispEdges"/>
<rect x="537" y="61.66" width="29" height="6.83" fill="#a70000" shape-rendering="crispEdges"/>
<rect x="537" y="55.83" width="29" height="6.83" fill="#970000" shape-rendering="crispEdges"/>
<rect x="537" y="50.00" width="29" height="6.83" fill="#870000" shape-rendering="crispEdges"/>
<rect x="537" y="50" width="29" height="373" fill="none" stroke="#111" stroke-width="1.2"/>
<text transform="translate(568 385) scale(0.965 1.12)" font-size="14.1" font-family="Liberation Sans, sans-serif" text-anchor="start" fill="#151515" text-rendering="geometricPrecision" >0.1</text>
<text transform="translate(568 340.5) scale(0.965 1.12)" font-size="14.1" font-family="Liberation Sans, sans-serif" text-anchor="start" fill="#151515" text-rendering="geometricPrecision" >0.2</text>
<text transform="translate(568 296) scale(0.965 1.12)" font-size="14.1" font-family="Liberation Sans, sans-serif" text-anchor="start" fill="#151515" text-rendering="geometricPrecision" >0.3</text>
<text transform="translate(568 251.5) scale(0.965 1.12)" font-size="14.1" font-family="Liberation Sans, sans-serif" text-anchor="start" fill="#151515" text-rendering="geometricPrecision" >0.4</text>
<text transform="translate(568 207) scale(0.965 1.12)" font-size="14.1" font-family="Liberation Sans, sans-serif" text-anchor="start" fill="#151515" text-rendering="geometricPrecision" >0.5</text>
<text transform="translate(568 162.5) scale(0.965 1.12)" font-size="14.1" font-family="Liberation Sans, sans-serif" text-anchor="start" fill="#151515" text-rendering="geometricPrecision" >0.6</text>
<text transform="translate(568 118) scale(0.965 1.12)" font-size="14.1" font-family="Liberation Sans, sans-serif" text-anchor="start" fill="#151515" text-rendering="geometricPrecision" >0.7</text>
<text transform="translate(568 73.4) scale(0.965 1.12)" font-size="14.1" font-family="Liberation Sans, sans-serif" text-anchor="start" fill="#151515" text-rendering="geometricPrecision" >0.8</text>
<path d="M537 379.8h3M566 379.8h-3M537 335.3h3M566 335.3h-3M537 290.8h3M566 290.8h-3M537 246.3h3M566 246.3h-3M537 201.8h3M566 201.8h-3M537 157.3h3M566 157.3h-3M537 112.8h3M566 112.8h-3M537 68.2h3M566 68.2h-3" fill="none" stroke="#111" stroke-width="1"/>
</svg>
</body>
</html>
